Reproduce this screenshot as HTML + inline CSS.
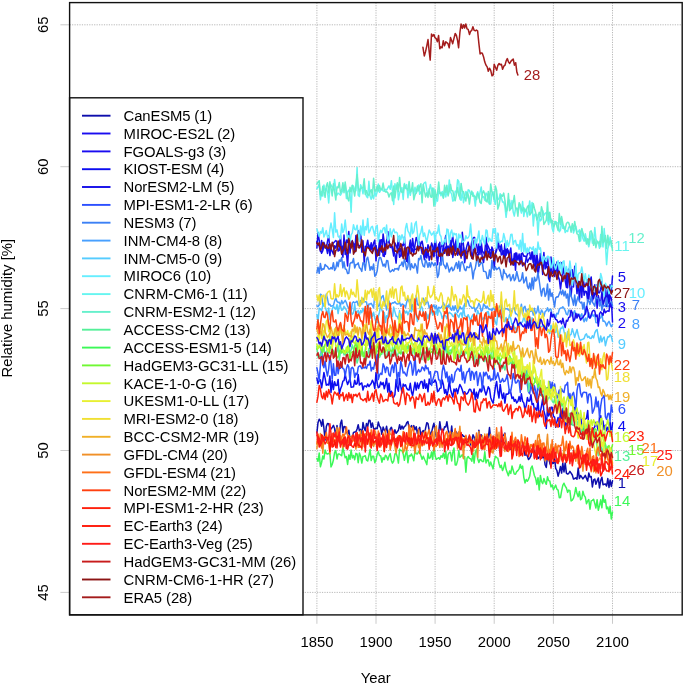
<!DOCTYPE html><html><head><meta charset="utf-8"><style>html,body{margin:0;padding:0;background:#fff}svg{display:block;will-change:transform}text{font-family:"Liberation Sans",sans-serif;font-size:14.85px}</style></head><body>
<svg width="685" height="685" viewBox="0 0 685 685">
<rect width="685" height="685" fill="#fff"/>
<g stroke="#a0a0a0" stroke-width="0.75" stroke-dasharray="1.2 1.25" fill="none"><line x1="69.6" y1="24.8" x2="682.2" y2="24.8"/><line x1="69.6" y1="166.7" x2="682.2" y2="166.7"/><line x1="69.6" y1="308.6" x2="682.2" y2="308.6"/><line x1="69.6" y1="450.5" x2="682.2" y2="450.5"/><line x1="69.6" y1="592.4" x2="682.2" y2="592.4"/><line x1="316.9" y1="2.6" x2="316.9" y2="614.9"/><line x1="376.0" y1="2.6" x2="376.0" y2="614.9"/><line x1="435.1" y1="2.6" x2="435.1" y2="614.9"/><line x1="494.2" y1="2.6" x2="494.2" y2="614.9"/><line x1="553.4" y1="2.6" x2="553.4" y2="614.9"/><line x1="612.5" y1="2.6" x2="612.5" y2="614.9"/></g>
<g stroke="#c4c4c4" stroke-width="0.9" fill="none"><line x1="60.4" y1="24.8" x2="69.6" y2="24.8"/><line x1="60.4" y1="166.7" x2="69.6" y2="166.7"/><line x1="60.4" y1="308.6" x2="69.6" y2="308.6"/><line x1="60.4" y1="450.5" x2="69.6" y2="450.5"/><line x1="60.4" y1="592.4" x2="69.6" y2="592.4"/><line x1="316.9" y1="614.9" x2="316.9" y2="623.8"/><line x1="376.0" y1="614.9" x2="376.0" y2="623.8"/><line x1="435.1" y1="614.9" x2="435.1" y2="623.8"/><line x1="494.2" y1="614.9" x2="494.2" y2="623.8"/><line x1="553.4" y1="614.9" x2="553.4" y2="623.8"/><line x1="612.5" y1="614.9" x2="612.5" y2="623.8"/></g>
<g fill="none" stroke-width="1.5" stroke-linejoin="round" stroke-linecap="round">
<path stroke="#0E0EAC" d="M316.9 432.9 L318.0 422.7 L319.2 419.2 L320.4 421.1 L321.6 426.2 L322.8 419.5 L323.9 428.2 L325.1 440.1 L326.3 426.6 L327.5 423.5 L328.7 423.7 L329.9 428.3 L331.0 429.0 L332.2 427.5 L333.4 425.3 L334.6 428.6 L335.8 436.7 L337.0 425.4 L338.1 434.7 L339.3 436.2 L340.5 423.4 L341.7 420.1 L342.9 432.4 L344.0 426.6 L345.2 426.8 L346.4 430.9 L347.6 434.3 L348.8 430.2 L350.0 438.5 L351.1 436.6 L352.3 437.5 L353.5 432.4 L354.7 432.1 L355.9 431.9 L357.1 429.0 L358.2 424.7 L359.4 430.8 L360.6 429.3 L361.8 434.6 L363.0 422.6 L364.2 428.1 L365.3 430.8 L366.5 423.4 L367.7 426.5 L368.9 420.3 L370.1 420.5 L371.2 427.6 L372.4 423.0 L373.6 428.3 L374.8 429.3 L376.0 428.1 L377.2 428.6 L378.3 422.0 L379.5 426.1 L380.7 427.8 L381.9 434.3 L383.1 427.1 L384.3 430.1 L385.4 431.3 L386.6 426.3 L387.8 434.1 L389.0 433.8 L390.2 429.0 L391.4 427.3 L392.5 431.0 L393.7 434.6 L394.9 429.8 L396.1 433.2 L397.3 431.7 L398.4 430.2 L399.6 424.7 L400.8 429.2 L402.0 425.9 L403.2 429.0 L404.4 426.4 L405.5 425.9 L406.7 422.8 L407.9 421.5 L409.1 428.1 L410.3 428.2 L411.5 425.6 L412.6 427.6 L413.8 425.6 L415.0 429.7 L416.2 426.7 L417.4 433.5 L418.6 429.4 L419.7 427.3 L420.9 436.2 L422.1 431.9 L423.3 430.5 L424.5 433.6 L425.6 428.2 L426.8 422.7 L428.0 423.6 L429.2 430.5 L430.4 434.3 L431.6 432.4 L432.7 427.3 L433.9 423.2 L435.1 431.8 L436.3 436.9 L437.5 433.1 L438.7 432.5 L439.8 421.7 L441.0 429.8 L442.2 430.0 L443.4 430.6 L444.6 426.7 L445.8 426.9 L446.9 421.7 L448.1 429.7 L449.3 433.2 L450.5 437.3 L451.7 426.0 L452.8 437.9 L454.0 436.0 L455.2 435.8 L456.4 432.0 L457.6 435.1 L458.8 439.0 L459.9 434.0 L461.1 437.0 L462.3 434.7 L463.5 436.3 L464.7 436.6 L465.9 437.2 L467.0 441.6 L468.2 438.8 L469.4 436.3 L470.6 445.0 L471.8 440.8 L473.0 434.8 L474.1 437.0 L475.3 443.1 L476.5 439.9 L477.7 440.3 L478.9 430.2 L480.0 438.2 L481.2 434.7 L482.4 437.3 L483.6 440.3 L484.8 439.6 L486.0 439.4 L487.1 436.5 L488.3 437.8 L489.5 427.5 L490.7 439.1 L491.9 437.2 L493.1 442.1 L494.2 438.7 L495.4 449.0 L496.6 433.9 L497.8 437.5 L499.0 445.7 L500.2 452.5 L501.3 446.8 L502.5 436.2 L503.7 435.2 L504.9 433.1 L506.1 443.7 L507.2 450.7 L508.4 443.4 L509.6 444.4 L510.8 449.2 L512.0 447.3 L513.2 444.6 L514.3 440.7 L515.5 446.5 L516.7 448.9 L517.9 450.0 L519.1 445.0 L520.3 452.3 L521.4 447.8 L522.6 444.9 L523.8 445.6 L525.0 455.3 L526.2 453.6 L527.4 456.3 L528.5 459.5 L529.7 458.2 L530.9 455.8 L532.1 449.2 L533.3 448.8 L534.4 451.7 L535.6 456.7 L536.8 454.1 L538.0 458.6 L539.2 457.4 L540.4 452.8 L541.5 455.5 L542.7 457.7 L543.9 456.0 L545.1 464.7 L546.3 467.5 L547.5 455.9 L548.6 455.6 L549.8 463.2 L551.0 466.1 L552.2 462.3 L553.4 463.3 L554.6 458.1 L555.7 468.3 L556.9 470.5 L558.1 476.2 L559.3 471.7 L560.5 466.4 L561.6 473.1 L562.8 463.1 L564.0 471.9 L565.2 462.9 L566.4 473.2 L567.6 474.1 L568.7 473.5 L569.9 471.4 L571.1 473.1 L572.3 475.0 L573.5 479.1 L574.7 478.5 L575.8 477.8 L577.0 479.2 L578.2 467.9 L579.4 478.6 L580.6 475.5 L581.8 477.1 L582.9 478.9 L584.1 477.3 L585.3 475.3 L586.5 478.4 L587.7 481.1 L588.8 472.9 L590.0 477.1 L591.2 476.5 L592.4 487.0 L593.6 479.8 L594.8 479.0 L595.9 484.3 L597.1 481.1 L598.3 477.9 L599.5 487.9 L600.7 480.6 L601.9 477.2 L603.0 484.7 L604.2 484.3 L605.4 484.0 L606.6 486.0 L607.8 478.6 L609.0 487.4 L610.1 479.9 L611.3 486.4 L612.5 480.8"/>
<path stroke="#1A0CF0" d="M316.9 241.7 L318.0 244.8 L319.2 246.1 L320.4 251.4 L321.6 240.4 L322.8 249.5 L323.9 243.6 L325.1 247.6 L326.3 248.3 L327.5 241.3 L328.7 235.8 L329.9 250.2 L331.0 247.7 L332.2 245.5 L333.4 243.0 L334.6 241.8 L335.8 240.5 L337.0 241.9 L338.1 251.1 L339.3 250.4 L340.5 235.6 L341.7 254.4 L342.9 246.0 L344.0 247.0 L345.2 250.5 L346.4 252.9 L347.6 266.0 L348.8 244.0 L350.0 249.2 L351.1 245.5 L352.3 240.6 L353.5 245.2 L354.7 252.5 L355.9 235.4 L357.1 241.3 L358.2 230.7 L359.4 239.9 L360.6 229.4 L361.8 252.1 L363.0 247.9 L364.2 252.4 L365.3 250.8 L366.5 245.6 L367.7 240.2 L368.9 248.1 L370.1 247.9 L371.2 242.8 L372.4 248.9 L373.6 243.0 L374.8 240.0 L376.0 261.0 L377.2 250.1 L378.3 255.3 L379.5 255.3 L380.7 240.1 L381.9 239.8 L383.1 256.0 L384.3 256.4 L385.4 244.0 L386.6 245.4 L387.8 231.4 L389.0 241.2 L390.2 247.6 L391.4 246.2 L392.5 249.3 L393.7 256.0 L394.9 242.7 L396.1 245.6 L397.3 248.5 L398.4 248.3 L399.6 257.3 L400.8 255.3 L402.0 244.4 L403.2 245.7 L404.4 237.1 L405.5 252.1 L406.7 247.9 L407.9 262.5 L409.1 247.8 L410.3 240.1 L411.5 252.4 L412.6 238.4 L413.8 247.5 L415.0 249.5 L416.2 249.3 L417.4 247.3 L418.6 242.3 L419.7 241.8 L420.9 247.7 L422.1 253.5 L423.3 253.1 L424.5 259.8 L425.6 247.4 L426.8 257.9 L428.0 250.0 L429.2 260.2 L430.4 256.3 L431.6 255.6 L432.7 249.3 L433.9 255.8 L435.1 236.8 L436.3 253.4 L437.5 264.7 L438.7 252.8 L439.8 242.3 L441.0 264.2 L442.2 254.8 L443.4 244.0 L444.6 253.3 L445.8 247.0 L446.9 246.6 L448.1 255.6 L449.3 247.6 L450.5 247.5 L451.7 241.4 L452.8 235.8 L454.0 250.2 L455.2 243.7 L456.4 239.1 L457.6 248.8 L458.8 253.7 L459.9 254.2 L461.1 254.7 L462.3 255.4 L463.5 247.2 L464.7 262.7 L465.9 254.6 L467.0 251.1 L468.2 251.6 L469.4 249.9 L470.6 249.1 L471.8 241.4 L473.0 238.3 L474.1 237.3 L475.3 238.5 L476.5 243.6 L477.7 252.3 L478.9 244.1 L480.0 254.4 L481.2 241.9 L482.4 251.4 L483.6 252.6 L484.8 254.9 L486.0 251.3 L487.1 244.0 L488.3 246.6 L489.5 249.6 L490.7 249.9 L491.9 250.0 L493.1 252.6 L494.2 259.1 L495.4 254.2 L496.6 247.5 L497.8 234.1 L499.0 247.0 L500.2 246.2 L501.3 254.9 L502.5 252.8 L503.7 256.7 L504.9 243.6 L506.1 255.2 L507.2 249.2 L508.4 254.0 L509.6 253.3 L510.8 248.0 L512.0 261.9 L513.2 265.2 L514.3 253.8 L515.5 270.3 L516.7 253.1 L517.9 260.0 L519.1 254.1 L520.3 262.0 L521.4 253.4 L522.6 266.0 L523.8 264.2 L525.0 264.5 L526.2 258.1 L527.4 254.3 L528.5 252.6 L529.7 252.4 L530.9 259.6 L532.1 252.8 L533.3 262.7 L534.4 252.2 L535.6 270.9 L536.8 255.2 L538.0 261.1 L539.2 267.4 L540.4 253.4 L541.5 262.0 L542.7 264.9 L543.9 252.5 L545.1 268.9 L546.3 266.1 L547.5 256.8 L548.6 268.3 L549.8 277.8 L551.0 269.6 L552.2 262.5 L553.4 261.9 L554.6 276.5 L555.7 271.2 L556.9 262.1 L558.1 276.1 L559.3 279.2 L560.5 289.1 L561.6 280.3 L562.8 268.7 L564.0 269.1 L565.2 280.8 L566.4 287.4 L567.6 271.1 L568.7 269.1 L569.9 287.0 L571.1 295.9 L572.3 281.9 L573.5 276.7 L574.7 272.3 L575.8 272.3 L577.0 288.7 L578.2 285.4 L579.4 281.5 L580.6 288.6 L581.8 297.5 L582.9 277.6 L584.1 284.4 L585.3 286.5 L586.5 282.3 L587.7 279.7 L588.8 299.5 L590.0 286.4 L591.2 290.4 L592.4 301.6 L593.6 291.6 L594.8 284.7 L595.9 290.0 L597.1 308.3 L598.3 295.4 L599.5 301.3 L600.7 302.4 L601.9 292.1 L603.0 293.8 L604.2 292.5 L605.4 286.3 L606.6 306.6 L607.8 296.0 L609.0 303.6 L610.1 295.8 L611.3 298.1 L612.5 322.0"/>
<path stroke="#0C0CF0" d="M316.9 378.1 L318.0 383.7 L319.2 380.6 L320.4 379.9 L321.6 387.8 L322.8 380.6 L323.9 372.5 L325.1 378.2 L326.3 385.2 L327.5 384.3 L328.7 385.0 L329.9 375.9 L331.0 392.4 L332.2 380.6 L333.4 389.6 L334.6 381.7 L335.8 385.6 L337.0 385.3 L338.1 379.4 L339.3 393.7 L340.5 389.0 L341.7 386.0 L342.9 381.1 L344.0 380.6 L345.2 374.2 L346.4 380.4 L347.6 384.5 L348.8 381.4 L350.0 378.2 L351.1 387.2 L352.3 387.1 L353.5 386.8 L354.7 380.2 L355.9 384.3 L357.1 383.6 L358.2 374.5 L359.4 385.1 L360.6 383.7 L361.8 383.0 L363.0 390.1 L364.2 385.9 L365.3 386.0 L366.5 387.0 L367.7 384.0 L368.9 386.5 L370.1 384.8 L371.2 383.5 L372.4 380.2 L373.6 382.8 L374.8 388.5 L376.0 372.5 L377.2 383.3 L378.3 387.7 L379.5 386.8 L380.7 382.0 L381.9 384.8 L383.1 382.5 L384.3 388.8 L385.4 384.5 L386.6 378.5 L387.8 392.1 L389.0 383.2 L390.2 395.1 L391.4 391.3 L392.5 397.2 L393.7 397.1 L394.9 394.7 L396.1 379.6 L397.3 388.1 L398.4 391.2 L399.6 378.0 L400.8 386.2 L402.0 393.0 L403.2 384.1 L404.4 386.0 L405.5 384.8 L406.7 388.2 L407.9 389.7 L409.1 390.0 L410.3 383.3 L411.5 392.0 L412.6 395.6 L413.8 389.1 L415.0 382.3 L416.2 390.1 L417.4 383.1 L418.6 388.5 L419.7 384.4 L420.9 381.5 L422.1 381.6 L423.3 388.3 L424.5 380.0 L425.6 388.3 L426.8 383.8 L428.0 391.8 L429.2 379.0 L430.4 384.2 L431.6 383.6 L432.7 382.3 L433.9 382.2 L435.1 379.9 L436.3 382.9 L437.5 391.7 L438.7 390.7 L439.8 388.3 L441.0 388.0 L442.2 379.9 L443.4 384.7 L444.6 393.2 L445.8 389.5 L446.9 396.2 L448.1 390.7 L449.3 380.5 L450.5 389.2 L451.7 393.6 L452.8 397.1 L454.0 389.1 L455.2 391.9 L456.4 388.6 L457.6 393.7 L458.8 388.2 L459.9 384.5 L461.1 386.8 L462.3 390.0 L463.5 394.0 L464.7 391.7 L465.9 394.0 L467.0 393.9 L468.2 392.3 L469.4 389.2 L470.6 389.5 L471.8 392.7 L473.0 394.6 L474.1 389.0 L475.3 399.7 L476.5 392.3 L477.7 398.2 L478.9 392.0 L480.0 388.9 L481.2 392.0 L482.4 388.0 L483.6 386.0 L484.8 391.0 L486.0 395.1 L487.1 391.3 L488.3 386.8 L489.5 388.8 L490.7 397.4 L491.9 400.7 L493.1 403.2 L494.2 396.0 L495.4 386.9 L496.6 381.4 L497.8 391.5 L499.0 398.0 L500.2 384.4 L501.3 392.5 L502.5 398.5 L503.7 393.1 L504.9 403.1 L506.1 394.0 L507.2 394.2 L508.4 393.8 L509.6 389.4 L510.8 392.6 L512.0 398.6 L513.2 397.0 L514.3 401.2 L515.5 399.5 L516.7 402.9 L517.9 401.4 L519.1 396.6 L520.3 401.2 L521.4 393.8 L522.6 401.4 L523.8 402.9 L525.0 410.1 L526.2 405.6 L527.4 397.5 L528.5 401.1 L529.7 400.9 L530.9 394.7 L532.1 404.6 L533.3 403.5 L534.4 409.7 L535.6 408.0 L536.8 410.5 L538.0 400.6 L539.2 416.4 L540.4 411.7 L541.5 405.9 L542.7 399.0 L543.9 410.9 L545.1 415.4 L546.3 428.4 L547.5 407.3 L548.6 415.9 L549.8 413.3 L551.0 407.3 L552.2 407.3 L553.4 416.0 L554.6 417.3 L555.7 427.3 L556.9 421.6 L558.1 417.5 L559.3 426.5 L560.5 409.8 L561.6 418.4 L562.8 408.5 L564.0 416.7 L565.2 421.4 L566.4 428.8 L567.6 419.2 L568.7 419.9 L569.9 418.3 L571.1 424.4 L572.3 413.0 L573.5 413.7 L574.7 407.5 L575.8 409.4 L577.0 419.3 L578.2 413.1 L579.4 424.2 L580.6 415.9 L581.8 426.1 L582.9 432.4 L584.1 419.4 L585.3 419.3 L586.5 418.2 L587.7 410.4 L588.8 428.2 L590.0 428.3 L591.2 429.5 L592.4 431.4 L593.6 428.7 L594.8 426.7 L595.9 422.3 L597.1 425.7 L598.3 430.5 L599.5 417.4 L600.7 415.7 L601.9 424.1 L603.0 421.0 L604.2 429.6 L605.4 425.3 L606.6 430.8 L607.8 427.2 L609.0 430.1 L610.1 422.0 L611.3 435.2 L612.5 422.7"/>
<path stroke="#140CE8" d="M316.9 248.0 L318.0 232.5 L319.2 240.4 L320.4 248.3 L321.6 253.3 L322.8 250.6 L323.9 242.3 L325.1 246.0 L326.3 247.4 L327.5 253.4 L328.7 244.6 L329.9 255.6 L331.0 248.2 L332.2 251.2 L333.4 254.1 L334.6 245.8 L335.8 248.3 L337.0 243.3 L338.1 246.6 L339.3 241.1 L340.5 247.0 L341.7 246.8 L342.9 257.2 L344.0 235.0 L345.2 254.4 L346.4 240.0 L347.6 242.5 L348.8 231.5 L350.0 253.0 L351.1 243.3 L352.3 241.5 L353.5 244.1 L354.7 244.0 L355.9 250.3 L357.1 242.0 L358.2 245.0 L359.4 246.6 L360.6 244.6 L361.8 249.0 L363.0 240.7 L364.2 262.2 L365.3 246.3 L366.5 247.1 L367.7 246.7 L368.9 245.0 L370.1 250.5 L371.2 246.6 L372.4 251.3 L373.6 250.3 L374.8 247.8 L376.0 245.5 L377.2 251.7 L378.3 253.2 L379.5 240.1 L380.7 250.5 L381.9 252.1 L383.1 233.9 L384.3 242.7 L385.4 254.3 L386.6 240.4 L387.8 239.0 L389.0 242.5 L390.2 244.9 L391.4 245.6 L392.5 246.4 L393.7 251.0 L394.9 254.0 L396.1 263.1 L397.3 248.2 L398.4 237.1 L399.6 251.8 L400.8 248.6 L402.0 256.1 L403.2 256.9 L404.4 253.9 L405.5 253.5 L406.7 261.3 L407.9 261.2 L409.1 249.0 L410.3 243.0 L411.5 251.8 L412.6 248.7 L413.8 253.2 L415.0 244.9 L416.2 237.5 L417.4 240.8 L418.6 248.7 L419.7 247.8 L420.9 243.6 L422.1 241.2 L423.3 247.3 L424.5 257.8 L425.6 256.4 L426.8 252.7 L428.0 244.7 L429.2 248.8 L430.4 250.3 L431.6 243.0 L432.7 246.0 L433.9 256.7 L435.1 235.9 L436.3 251.5 L437.5 251.8 L438.7 244.1 L439.8 255.3 L441.0 247.0 L442.2 244.5 L443.4 246.5 L444.6 242.1 L445.8 235.4 L446.9 253.7 L448.1 245.9 L449.3 252.3 L450.5 240.6 L451.7 247.7 L452.8 257.5 L454.0 249.8 L455.2 251.3 L456.4 241.6 L457.6 255.3 L458.8 247.0 L459.9 243.2 L461.1 258.1 L462.3 232.3 L463.5 245.4 L464.7 256.0 L465.9 250.0 L467.0 245.6 L468.2 242.1 L469.4 248.6 L470.6 247.1 L471.8 258.5 L473.0 252.7 L474.1 240.5 L475.3 253.3 L476.5 253.0 L477.7 256.5 L478.9 252.6 L480.0 240.6 L481.2 247.7 L482.4 258.4 L483.6 262.5 L484.8 252.0 L486.0 237.3 L487.1 247.5 L488.3 255.3 L489.5 250.5 L490.7 258.3 L491.9 246.9 L493.1 250.0 L494.2 269.2 L495.4 253.0 L496.6 250.6 L497.8 243.0 L499.0 248.9 L500.2 251.5 L501.3 244.8 L502.5 253.1 L503.7 250.7 L504.9 258.0 L506.1 251.9 L507.2 248.6 L508.4 251.3 L509.6 261.9 L510.8 259.1 L512.0 262.0 L513.2 258.7 L514.3 264.8 L515.5 252.9 L516.7 257.7 L517.9 258.5 L519.1 257.9 L520.3 263.8 L521.4 254.3 L522.6 253.1 L523.8 256.3 L525.0 256.1 L526.2 256.5 L527.4 262.2 L528.5 259.8 L529.7 257.7 L530.9 258.2 L532.1 251.8 L533.3 260.6 L534.4 265.9 L535.6 263.8 L536.8 253.2 L538.0 276.3 L539.2 266.3 L540.4 263.8 L541.5 258.3 L542.7 274.4 L543.9 259.7 L545.1 258.4 L546.3 267.6 L547.5 266.7 L548.6 278.5 L549.8 281.5 L551.0 257.0 L552.2 273.6 L553.4 272.7 L554.6 264.1 L555.7 265.0 L556.9 270.3 L558.1 278.7 L559.3 263.2 L560.5 262.5 L561.6 262.7 L562.8 266.9 L564.0 273.6 L565.2 276.8 L566.4 275.9 L567.6 287.8 L568.7 276.5 L569.9 276.8 L571.1 270.3 L572.3 269.8 L573.5 286.9 L574.7 266.3 L575.8 277.9 L577.0 293.6 L578.2 281.3 L579.4 300.3 L580.6 285.2 L581.8 291.3 L582.9 281.8 L584.1 295.2 L585.3 291.2 L586.5 291.7 L587.7 301.1 L588.8 283.2 L590.0 282.2 L591.2 277.0 L592.4 292.9 L593.6 298.7 L594.8 293.1 L595.9 294.1 L597.1 284.8 L598.3 292.7 L599.5 292.7 L600.7 289.2 L601.9 281.4 L603.0 305.9 L604.2 301.1 L605.4 295.9 L606.6 298.4 L607.8 287.8 L609.0 302.7 L610.1 284.7 L611.3 292.0 L612.5 276.0"/>
<path stroke="#2C50FF" d="M316.9 367.8 L318.0 373.5 L319.2 380.6 L320.4 365.3 L321.6 346.5 L322.8 365.0 L323.9 367.7 L325.1 360.9 L326.3 370.6 L327.5 376.0 L328.7 368.6 L329.9 355.6 L331.0 363.2 L332.2 379.3 L333.4 363.8 L334.6 375.3 L335.8 375.2 L337.0 361.7 L338.1 373.8 L339.3 366.7 L340.5 368.3 L341.7 364.1 L342.9 368.6 L344.0 369.2 L345.2 376.1 L346.4 368.7 L347.6 364.7 L348.8 366.9 L350.0 381.8 L351.1 368.6 L352.3 367.3 L353.5 369.0 L354.7 377.6 L355.9 373.1 L357.1 374.8 L358.2 367.3 L359.4 366.0 L360.6 366.1 L361.8 368.7 L363.0 367.4 L364.2 368.0 L365.3 366.8 L366.5 368.5 L367.7 364.6 L368.9 365.0 L370.1 361.1 L371.2 370.9 L372.4 367.4 L373.6 369.1 L374.8 362.3 L376.0 364.6 L377.2 354.2 L378.3 379.6 L379.5 375.2 L380.7 373.2 L381.9 374.4 L383.1 363.8 L384.3 366.6 L385.4 372.6 L386.6 367.1 L387.8 367.7 L389.0 375.0 L390.2 376.1 L391.4 368.0 L392.5 365.0 L393.7 372.4 L394.9 362.6 L396.1 365.0 L397.3 383.8 L398.4 372.6 L399.6 376.4 L400.8 361.2 L402.0 366.4 L403.2 373.0 L404.4 372.1 L405.5 374.4 L406.7 376.0 L407.9 368.7 L409.1 364.8 L410.3 361.1 L411.5 364.5 L412.6 375.1 L413.8 369.6 L415.0 355.9 L416.2 375.3 L417.4 372.0 L418.6 369.5 L419.7 371.9 L420.9 371.0 L422.1 367.0 L423.3 368.1 L424.5 370.7 L425.6 365.0 L426.8 368.7 L428.0 367.8 L429.2 374.0 L430.4 371.7 L431.6 385.4 L432.7 380.1 L433.9 376.0 L435.1 371.5 L436.3 371.5 L437.5 372.0 L438.7 379.8 L439.8 380.1 L441.0 386.2 L442.2 371.6 L443.4 365.3 L444.6 370.2 L445.8 377.7 L446.9 371.9 L448.1 381.8 L449.3 376.3 L450.5 383.0 L451.7 374.6 L452.8 382.4 L454.0 379.7 L455.2 372.1 L456.4 370.3 L457.6 368.3 L458.8 369.4 L459.9 371.3 L461.1 365.3 L462.3 379.8 L463.5 372.1 L464.7 383.0 L465.9 376.3 L467.0 372.0 L468.2 371.4 L469.4 368.4 L470.6 380.3 L471.8 371.2 L473.0 372.5 L474.1 379.5 L475.3 372.9 L476.5 371.6 L477.7 385.5 L478.9 377.6 L480.0 372.8 L481.2 377.3 L482.4 390.7 L483.6 372.2 L484.8 375.8 L486.0 372.2 L487.1 374.3 L488.3 378.8 L489.5 375.9 L490.7 380.9 L491.9 378.8 L493.1 379.8 L494.2 367.0 L495.4 379.4 L496.6 376.9 L497.8 372.7 L499.0 377.7 L500.2 382.5 L501.3 381.6 L502.5 378.4 L503.7 381.7 L504.9 381.1 L506.1 378.7 L507.2 374.5 L508.4 384.5 L509.6 393.1 L510.8 390.8 L512.0 383.9 L513.2 373.4 L514.3 377.6 L515.5 382.9 L516.7 382.8 L517.9 380.0 L519.1 381.1 L520.3 392.5 L521.4 379.7 L522.6 378.2 L523.8 373.8 L525.0 383.9 L526.2 370.7 L527.4 384.6 L528.5 391.8 L529.7 393.8 L530.9 383.5 L532.1 390.1 L533.3 393.4 L534.4 385.7 L535.6 391.1 L536.8 401.7 L538.0 379.9 L539.2 389.6 L540.4 395.2 L541.5 394.5 L542.7 394.7 L543.9 400.7 L545.1 393.8 L546.3 388.2 L547.5 387.6 L548.6 387.3 L549.8 381.5 L551.0 389.0 L552.2 382.3 L553.4 391.3 L554.6 384.1 L555.7 391.4 L556.9 398.4 L558.1 394.2 L559.3 389.9 L560.5 397.1 L561.6 388.7 L562.8 391.4 L564.0 392.5 L565.2 385.3 L566.4 384.8 L567.6 382.4 L568.7 401.4 L569.9 393.5 L571.1 400.9 L572.3 394.4 L573.5 392.4 L574.7 398.9 L575.8 410.4 L577.0 390.6 L578.2 384.1 L579.4 383.8 L580.6 393.3 L581.8 397.0 L582.9 392.9 L584.1 392.1 L585.3 392.6 L586.5 392.6 L587.7 402.9 L588.8 394.5 L590.0 393.8 L591.2 397.9 L592.4 413.2 L593.6 410.4 L594.8 406.6 L595.9 397.1 L597.1 406.8 L598.3 401.3 L599.5 417.3 L600.7 406.1 L601.9 398.7 L603.0 397.4 L604.2 395.2 L605.4 416.6 L606.6 419.4 L607.8 413.7 L609.0 413.2 L610.1 421.2 L611.3 404.9 L612.5 411.9"/>
<path stroke="#3C80F5" d="M316.9 272.8 L318.0 267.2 L319.2 273.3 L320.4 263.4 L321.6 270.2 L322.8 268.8 L323.9 269.3 L325.1 264.5 L326.3 265.9 L327.5 266.6 L328.7 268.9 L329.9 269.0 L331.0 267.5 L332.2 269.0 L333.4 262.7 L334.6 270.4 L335.8 268.4 L337.0 262.0 L338.1 266.7 L339.3 259.9 L340.5 261.2 L341.7 257.5 L342.9 267.8 L344.0 261.8 L345.2 268.9 L346.4 269.5 L347.6 273.6 L348.8 273.2 L350.0 263.7 L351.1 262.5 L352.3 262.8 L353.5 258.5 L354.7 268.0 L355.9 264.5 L357.1 264.4 L358.2 262.9 L359.4 267.6 L360.6 268.8 L361.8 271.4 L363.0 262.7 L364.2 263.4 L365.3 270.2 L366.5 259.3 L367.7 257.2 L368.9 263.0 L370.1 270.3 L371.2 266.6 L372.4 269.6 L373.6 264.0 L374.8 276.3 L376.0 274.7 L377.2 270.7 L378.3 261.9 L379.5 257.2 L380.7 257.6 L381.9 261.7 L383.1 266.0 L384.3 264.1 L385.4 267.0 L386.6 260.6 L387.8 260.8 L389.0 269.2 L390.2 272.0 L391.4 271.2 L392.5 269.6 L393.7 271.1 L394.9 268.6 L396.1 269.1 L397.3 268.3 L398.4 270.0 L399.6 265.4 L400.8 265.3 L402.0 261.9 L403.2 266.6 L404.4 258.9 L405.5 262.9 L406.7 269.6 L407.9 266.4 L409.1 256.2 L410.3 269.8 L411.5 263.8 L412.6 267.3 L413.8 268.0 L415.0 263.6 L416.2 266.2 L417.4 273.1 L418.6 258.6 L419.7 259.6 L420.9 255.4 L422.1 262.4 L423.3 266.2 L424.5 267.0 L425.6 259.7 L426.8 262.5 L428.0 267.2 L429.2 262.5 L430.4 267.1 L431.6 262.3 L432.7 263.5 L433.9 265.8 L435.1 262.9 L436.3 265.5 L437.5 277.4 L438.7 274.4 L439.8 262.7 L441.0 265.3 L442.2 251.9 L443.4 264.2 L444.6 265.9 L445.8 268.6 L446.9 263.0 L448.1 266.9 L449.3 272.1 L450.5 269.0 L451.7 267.2 L452.8 270.7 L454.0 269.5 L455.2 265.5 L456.4 262.6 L457.6 268.4 L458.8 261.3 L459.9 271.2 L461.1 262.7 L462.3 261.8 L463.5 264.7 L464.7 269.7 L465.9 270.6 L467.0 266.5 L468.2 267.4 L469.4 267.6 L470.6 262.7 L471.8 268.5 L473.0 279.0 L474.1 271.0 L475.3 268.4 L476.5 261.2 L477.7 258.2 L478.9 266.3 L480.0 264.7 L481.2 262.3 L482.4 263.4 L483.6 271.3 L484.8 271.4 L486.0 272.1 L487.1 278.3 L488.3 278.5 L489.5 270.0 L490.7 277.3 L491.9 260.4 L493.1 268.6 L494.2 269.9 L495.4 266.7 L496.6 269.6 L497.8 268.7 L499.0 267.4 L500.2 270.2 L501.3 276.1 L502.5 279.8 L503.7 269.4 L504.9 273.4 L506.1 273.9 L507.2 277.8 L508.4 275.7 L509.6 274.4 L510.8 280.8 L512.0 277.7 L513.2 274.6 L514.3 280.7 L515.5 278.8 L516.7 271.4 L517.9 276.5 L519.1 281.4 L520.3 280.8 L521.4 279.1 L522.6 272.7 L523.8 283.0 L525.0 280.5 L526.2 277.1 L527.4 286.3 L528.5 288.7 L529.7 283.1 L530.9 290.2 L532.1 277.9 L533.3 288.9 L534.4 277.3 L535.6 281.1 L536.8 279.7 L538.0 272.4 L539.2 280.5 L540.4 289.5 L541.5 295.9 L542.7 289.1 L543.9 288.2 L545.1 296.4 L546.3 293.8 L547.5 283.9 L548.6 300.1 L549.8 288.9 L551.0 296.5 L552.2 292.9 L553.4 300.2 L554.6 307.0 L555.7 297.8 L556.9 296.8 L558.1 296.9 L559.3 293.7 L560.5 290.7 L561.6 294.5 L562.8 290.1 L564.0 295.9 L565.2 291.2 L566.4 298.1 L567.6 294.0 L568.7 305.9 L569.9 289.8 L571.1 296.1 L572.3 299.5 L573.5 305.2 L574.7 295.0 L575.8 305.7 L577.0 300.0 L578.2 296.6 L579.4 301.4 L580.6 302.9 L581.8 302.1 L582.9 309.1 L584.1 302.4 L585.3 314.6 L586.5 310.2 L587.7 299.5 L588.8 301.1 L590.0 304.4 L591.2 296.3 L592.4 302.3 L593.6 303.8 L594.8 306.1 L595.9 297.8 L597.1 298.1 L598.3 298.8 L599.5 306.0 L600.7 301.2 L601.9 310.2 L603.0 305.2 L604.2 305.5 L605.4 306.5 L606.6 297.9 L607.8 306.7 L609.0 306.3 L610.1 302.9 L611.3 301.8 L612.5 305.8"/>
<path stroke="#48A0FF" d="M316.9 305.8 L318.0 306.6 L319.2 305.0 L320.4 294.2 L321.6 294.9 L322.8 304.8 L323.9 305.9 L325.1 300.4 L326.3 294.1 L327.5 298.8 L328.7 304.8 L329.9 304.3 L331.0 306.3 L332.2 305.9 L333.4 305.6 L334.6 301.1 L335.8 298.0 L337.0 301.4 L338.1 302.5 L339.3 302.2 L340.5 305.4 L341.7 300.6 L342.9 303.7 L344.0 302.1 L345.2 300.4 L346.4 302.7 L347.6 306.4 L348.8 308.5 L350.0 306.7 L351.1 311.7 L352.3 303.0 L353.5 301.9 L354.7 303.0 L355.9 302.1 L357.1 301.2 L358.2 305.2 L359.4 303.5 L360.6 300.6 L361.8 304.0 L363.0 298.2 L364.2 301.7 L365.3 301.7 L366.5 301.9 L367.7 309.5 L368.9 303.9 L370.1 304.0 L371.2 303.3 L372.4 305.4 L373.6 307.8 L374.8 294.1 L376.0 296.6 L377.2 301.9 L378.3 306.5 L379.5 305.2 L380.7 299.5 L381.9 296.8 L383.1 295.6 L384.3 301.7 L385.4 303.1 L386.6 310.0 L387.8 304.4 L389.0 300.9 L390.2 305.7 L391.4 303.7 L392.5 302.7 L393.7 303.1 L394.9 301.8 L396.1 303.3 L397.3 304.0 L398.4 303.7 L399.6 302.2 L400.8 306.3 L402.0 304.0 L403.2 304.5 L404.4 305.3 L405.5 307.7 L406.7 302.1 L407.9 298.1 L409.1 301.8 L410.3 299.4 L411.5 308.9 L412.6 304.6 L413.8 308.3 L415.0 304.6 L416.2 295.3 L417.4 304.5 L418.6 305.3 L419.7 302.5 L420.9 304.4 L422.1 301.4 L423.3 298.2 L424.5 301.1 L425.6 304.2 L426.8 300.6 L428.0 302.3 L429.2 308.0 L430.4 305.6 L431.6 305.6 L432.7 307.0 L433.9 305.0 L435.1 308.5 L436.3 305.4 L437.5 312.4 L438.7 307.2 L439.8 307.9 L441.0 307.7 L442.2 306.3 L443.4 302.8 L444.6 306.1 L445.8 308.3 L446.9 305.5 L448.1 307.4 L449.3 303.9 L450.5 309.0 L451.7 310.2 L452.8 305.9 L454.0 310.2 L455.2 305.7 L456.4 309.1 L457.6 312.5 L458.8 309.8 L459.9 306.2 L461.1 309.0 L462.3 308.1 L463.5 309.2 L464.7 303.6 L465.9 306.4 L467.0 299.8 L468.2 301.3 L469.4 305.8 L470.6 306.4 L471.8 307.9 L473.0 308.2 L474.1 306.0 L475.3 311.7 L476.5 308.3 L477.7 307.1 L478.9 303.2 L480.0 305.5 L481.2 311.6 L482.4 310.1 L483.6 304.0 L484.8 305.4 L486.0 308.2 L487.1 306.1 L488.3 308.4 L489.5 309.6 L490.7 309.3 L491.9 310.8 L493.1 308.1 L494.2 308.1 L495.4 312.3 L496.6 307.3 L497.8 309.6 L499.0 307.7 L500.2 305.6 L501.3 304.5 L502.5 314.7 L503.7 312.5 L504.9 308.3 L506.1 308.9 L507.2 308.6 L508.4 310.1 L509.6 309.7 L510.8 315.4 L512.0 310.1 L513.2 308.2 L514.3 307.8 L515.5 313.5 L516.7 314.2 L517.9 315.3 L519.1 318.5 L520.3 310.3 L521.4 304.2 L522.6 314.1 L523.8 307.5 L525.0 306.3 L526.2 311.8 L527.4 310.0 L528.5 309.0 L529.7 311.6 L530.9 311.2 L532.1 309.8 L533.3 315.1 L534.4 308.3 L535.6 313.8 L536.8 311.8 L538.0 306.1 L539.2 312.9 L540.4 314.2 L541.5 309.9 L542.7 312.1 L543.9 316.4 L545.1 311.7 L546.3 310.7 L547.5 307.8 L548.6 311.5 L549.8 309.3 L551.0 309.2 L552.2 316.5 L553.4 317.0 L554.6 314.3 L555.7 317.7 L556.9 313.3 L558.1 313.9 L559.3 309.2 L560.5 308.0 L561.6 308.0 L562.8 306.8 L564.0 308.3 L565.2 310.5 L566.4 314.2 L567.6 314.9 L568.7 309.9 L569.9 311.0 L571.1 314.7 L572.3 316.3 L573.5 312.9 L574.7 310.7 L575.8 317.9 L577.0 313.8 L578.2 315.8 L579.4 314.3 L580.6 316.8 L581.8 313.8 L582.9 318.6 L584.1 321.8 L585.3 317.9 L586.5 321.0 L587.7 316.7 L588.8 312.6 L590.0 317.3 L591.2 316.9 L592.4 314.1 L593.6 316.1 L594.8 314.6 L595.9 322.4 L597.1 322.7 L598.3 322.6 L599.5 318.7 L600.7 317.6 L601.9 314.0 L603.0 321.2 L604.2 321.1 L605.4 322.5 L606.6 326.0 L607.8 323.1 L609.0 321.4 L610.1 323.7 L611.3 326.7 L612.5 324.6"/>
<path stroke="#55CCFF" d="M316.9 314.6 L318.0 321.6 L319.2 308.2 L320.4 308.8 L321.6 310.9 L322.8 305.2 L323.9 303.7 L325.1 306.6 L326.3 310.4 L327.5 314.5 L328.7 308.1 L329.9 319.7 L331.0 314.0 L332.2 309.4 L333.4 306.1 L334.6 308.1 L335.8 309.3 L337.0 304.4 L338.1 313.6 L339.3 305.8 L340.5 306.2 L341.7 310.3 L342.9 309.6 L344.0 306.3 L345.2 308.2 L346.4 310.1 L347.6 313.9 L348.8 313.5 L350.0 313.7 L351.1 311.3 L352.3 314.4 L353.5 312.8 L354.7 304.4 L355.9 313.0 L357.1 312.2 L358.2 310.5 L359.4 315.0 L360.6 310.6 L361.8 312.6 L363.0 308.2 L364.2 311.7 L365.3 312.4 L366.5 313.6 L367.7 312.2 L368.9 311.9 L370.1 318.2 L371.2 312.2 L372.4 316.2 L373.6 312.3 L374.8 318.3 L376.0 322.0 L377.2 322.8 L378.3 316.3 L379.5 312.2 L380.7 304.6 L381.9 310.4 L383.1 312.7 L384.3 312.6 L385.4 322.4 L386.6 315.7 L387.8 316.9 L389.0 309.7 L390.2 311.7 L391.4 314.5 L392.5 316.5 L393.7 307.1 L394.9 311.6 L396.1 316.0 L397.3 316.5 L398.4 319.1 L399.6 310.6 L400.8 319.3 L402.0 314.3 L403.2 312.2 L404.4 310.6 L405.5 313.0 L406.7 311.1 L407.9 314.8 L409.1 311.7 L410.3 309.1 L411.5 311.9 L412.6 308.2 L413.8 309.4 L415.0 311.4 L416.2 315.3 L417.4 321.4 L418.6 316.3 L419.7 313.3 L420.9 305.7 L422.1 307.7 L423.3 312.9 L424.5 315.6 L425.6 312.6 L426.8 314.5 L428.0 318.8 L429.2 314.2 L430.4 313.7 L431.6 309.2 L432.7 315.2 L433.9 312.5 L435.1 314.1 L436.3 310.6 L437.5 315.3 L438.7 309.5 L439.8 311.4 L441.0 313.3 L442.2 318.5 L443.4 315.9 L444.6 315.3 L445.8 315.9 L446.9 318.8 L448.1 313.9 L449.3 312.4 L450.5 313.4 L451.7 314.1 L452.8 316.4 L454.0 316.8 L455.2 312.7 L456.4 313.8 L457.6 315.4 L458.8 317.5 L459.9 314.1 L461.1 312.8 L462.3 317.3 L463.5 306.0 L464.7 315.7 L465.9 316.6 L467.0 316.9 L468.2 314.7 L469.4 317.8 L470.6 320.9 L471.8 316.6 L473.0 314.5 L474.1 318.5 L475.3 321.0 L476.5 316.5 L477.7 310.5 L478.9 313.7 L480.0 313.7 L481.2 315.9 L482.4 319.4 L483.6 317.9 L484.8 318.5 L486.0 318.7 L487.1 311.7 L488.3 311.6 L489.5 317.9 L490.7 317.3 L491.9 317.0 L493.1 321.1 L494.2 317.5 L495.4 322.5 L496.6 324.9 L497.8 313.7 L499.0 315.4 L500.2 316.2 L501.3 318.6 L502.5 315.1 L503.7 319.5 L504.9 321.8 L506.1 317.4 L507.2 321.9 L508.4 319.5 L509.6 314.6 L510.8 318.9 L512.0 324.6 L513.2 323.5 L514.3 328.4 L515.5 327.6 L516.7 332.2 L517.9 324.8 L519.1 326.5 L520.3 323.9 L521.4 322.6 L522.6 321.6 L523.8 316.8 L525.0 320.6 L526.2 323.6 L527.4 319.7 L528.5 325.0 L529.7 316.3 L530.9 325.7 L532.1 317.8 L533.3 320.2 L534.4 327.3 L535.6 325.1 L536.8 324.5 L538.0 322.2 L539.2 327.4 L540.4 326.4 L541.5 326.6 L542.7 325.9 L543.9 327.6 L545.1 328.4 L546.3 326.3 L547.5 329.6 L548.6 331.4 L549.8 333.6 L551.0 325.2 L552.2 329.0 L553.4 329.5 L554.6 332.3 L555.7 332.6 L556.9 324.9 L558.1 337.3 L559.3 336.1 L560.5 328.3 L561.6 328.4 L562.8 326.1 L564.0 331.2 L565.2 335.8 L566.4 338.4 L567.6 331.6 L568.7 339.8 L569.9 335.0 L571.1 334.4 L572.3 328.7 L573.5 332.6 L574.7 337.4 L575.8 333.3 L577.0 329.4 L578.2 334.9 L579.4 339.1 L580.6 340.3 L581.8 339.5 L582.9 339.2 L584.1 338.5 L585.3 334.9 L586.5 333.9 L587.7 337.4 L588.8 336.2 L590.0 338.3 L591.2 338.4 L592.4 335.8 L593.6 337.9 L594.8 332.8 L595.9 330.6 L597.1 329.5 L598.3 336.9 L599.5 342.6 L600.7 336.0 L601.9 341.8 L603.0 338.5 L604.2 337.0 L605.4 345.7 L606.6 340.7 L607.8 336.7 L609.0 336.9 L610.1 334.7 L611.3 336.4 L612.5 341.6"/>
<path stroke="#66EEFF" d="M316.9 229.1 L318.0 232.5 L319.2 236.2 L320.4 231.6 L321.6 233.1 L322.8 227.7 L323.9 236.9 L325.1 234.0 L326.3 230.6 L327.5 236.8 L328.7 237.8 L329.9 229.3 L331.0 223.1 L332.2 229.4 L333.4 237.4 L334.6 212.8 L335.8 232.1 L337.0 229.8 L338.1 236.4 L339.3 237.4 L340.5 238.8 L341.7 224.1 L342.9 232.6 L344.0 229.8 L345.2 220.1 L346.4 232.0 L347.6 238.6 L348.8 235.5 L350.0 242.2 L351.1 234.8 L352.3 232.9 L353.5 224.7 L354.7 229.4 L355.9 229.9 L357.1 225.2 L358.2 233.5 L359.4 241.2 L360.6 226.1 L361.8 235.0 L363.0 220.0 L364.2 235.3 L365.3 226.6 L366.5 229.8 L367.7 218.4 L368.9 232.8 L370.1 230.7 L371.2 227.1 L372.4 226.3 L373.6 231.0 L374.8 235.8 L376.0 226.9 L377.2 225.4 L378.3 241.6 L379.5 234.1 L380.7 230.2 L381.9 232.8 L383.1 228.4 L384.3 227.5 L385.4 233.1 L386.6 225.0 L387.8 240.9 L389.0 238.2 L390.2 228.8 L391.4 236.8 L392.5 231.7 L393.7 229.0 L394.9 232.8 L396.1 232.1 L397.3 233.0 L398.4 241.6 L399.6 235.5 L400.8 239.7 L402.0 234.8 L403.2 238.3 L404.4 243.0 L405.5 228.2 L406.7 223.4 L407.9 230.9 L409.1 232.9 L410.3 236.8 L411.5 222.9 L412.6 233.7 L413.8 231.9 L415.0 223.8 L416.2 221.5 L417.4 233.5 L418.6 244.8 L419.7 235.1 L420.9 232.2 L422.1 226.2 L423.3 236.5 L424.5 232.9 L425.6 237.5 L426.8 242.2 L428.0 235.6 L429.2 230.0 L430.4 232.6 L431.6 235.1 L432.7 233.8 L433.9 231.6 L435.1 242.4 L436.3 232.2 L437.5 233.1 L438.7 225.1 L439.8 234.5 L441.0 236.5 L442.2 244.8 L443.4 243.5 L444.6 239.6 L445.8 242.2 L446.9 229.1 L448.1 229.7 L449.3 243.0 L450.5 232.7 L451.7 230.0 L452.8 236.7 L454.0 233.1 L455.2 234.7 L456.4 233.7 L457.6 249.4 L458.8 234.0 L459.9 237.7 L461.1 234.9 L462.3 242.5 L463.5 241.5 L464.7 240.5 L465.9 235.8 L467.0 238.5 L468.2 237.7 L469.4 235.2 L470.6 224.0 L471.8 238.0 L473.0 248.4 L474.1 246.8 L475.3 238.6 L476.5 243.0 L477.7 238.1 L478.9 230.9 L480.0 245.4 L481.2 241.7 L482.4 235.4 L483.6 241.3 L484.8 244.1 L486.0 229.9 L487.1 230.6 L488.3 241.8 L489.5 238.2 L490.7 240.6 L491.9 241.4 L493.1 228.7 L494.2 232.6 L495.4 228.4 L496.6 247.9 L497.8 233.0 L499.0 242.2 L500.2 242.7 L501.3 241.1 L502.5 241.6 L503.7 233.6 L504.9 238.4 L506.1 247.9 L507.2 240.5 L508.4 246.6 L509.6 242.1 L510.8 234.4 L512.0 234.2 L513.2 244.4 L514.3 241.1 L515.5 240.4 L516.7 245.8 L517.9 244.5 L519.1 249.2 L520.3 240.2 L521.4 251.4 L522.6 233.6 L523.8 251.9 L525.0 243.5 L526.2 253.2 L527.4 248.0 L528.5 252.4 L529.7 247.2 L530.9 247.9 L532.1 249.7 L533.3 246.8 L534.4 254.2 L535.6 248.4 L536.8 254.3 L538.0 242.0 L539.2 249.3 L540.4 247.9 L541.5 255.8 L542.7 263.9 L543.9 256.6 L545.1 259.3 L546.3 261.3 L547.5 256.2 L548.6 256.5 L549.8 258.5 L551.0 267.8 L552.2 265.7 L553.4 257.7 L554.6 266.8 L555.7 269.1 L556.9 264.5 L558.1 260.6 L559.3 269.6 L560.5 262.4 L561.6 273.3 L562.8 261.8 L564.0 260.9 L565.2 274.6 L566.4 266.6 L567.6 272.3 L568.7 272.1 L569.9 261.1 L571.1 269.9 L572.3 285.3 L573.5 278.9 L574.7 279.4 L575.8 263.2 L577.0 284.5 L578.2 274.4 L579.4 272.8 L580.6 272.8 L581.8 266.9 L582.9 273.8 L584.1 280.9 L585.3 273.7 L586.5 281.7 L587.7 282.4 L588.8 274.9 L590.0 284.9 L591.2 287.3 L592.4 290.8 L593.6 291.2 L594.8 288.0 L595.9 286.1 L597.1 286.5 L598.3 281.7 L599.5 286.4 L600.7 273.5 L601.9 277.9 L603.0 290.3 L604.2 295.9 L605.4 283.2 L606.6 286.5 L607.8 288.9 L609.0 293.8 L610.1 291.0 L611.3 285.3 L612.5 286.6"/>
<path stroke="#66F5F0" d="M316.9 188.7 L318.0 187.0 L319.2 184.1 L320.4 199.8 L321.6 191.6 L322.8 196.1 L323.9 185.0 L325.1 190.9 L326.3 188.7 L327.5 192.0 L328.7 203.0 L329.9 188.2 L331.0 185.0 L332.2 186.7 L333.4 188.6 L334.6 179.6 L335.8 189.7 L337.0 195.0 L338.1 193.2 L339.3 194.0 L340.5 195.1 L341.7 193.0 L342.9 189.7 L344.0 189.0 L345.2 184.4 L346.4 198.5 L347.6 191.8 L348.8 190.0 L350.0 193.4 L351.1 212.3 L352.3 185.3 L353.5 186.2 L354.7 189.4 L355.9 190.7 L357.1 167.5 L358.2 195.3 L359.4 196.4 L360.6 184.8 L361.8 187.3 L363.0 193.8 L364.2 183.8 L365.3 192.0 L366.5 196.4 L367.7 197.7 L368.9 181.3 L370.1 196.3 L371.2 199.2 L372.4 194.7 L373.6 198.8 L374.8 191.5 L376.0 196.1 L377.2 191.7 L378.3 184.1 L379.5 192.3 L380.7 190.3 L381.9 188.4 L383.1 191.0 L384.3 191.2 L385.4 189.4 L386.6 190.1 L387.8 187.9 L389.0 185.8 L390.2 189.3 L391.4 180.7 L392.5 192.2 L393.7 204.4 L394.9 183.7 L396.1 189.4 L397.3 184.6 L398.4 199.8 L399.6 193.2 L400.8 189.9 L402.0 187.6 L403.2 199.4 L404.4 183.5 L405.5 188.5 L406.7 184.6 L407.9 197.8 L409.1 187.7 L410.3 195.3 L411.5 188.6 L412.6 188.8 L413.8 194.8 L415.0 187.2 L416.2 193.2 L417.4 190.7 L418.6 185.0 L419.7 194.3 L420.9 191.8 L422.1 195.6 L423.3 184.4 L424.5 182.6 L425.6 182.1 L426.8 189.9 L428.0 195.5 L429.2 190.5 L430.4 184.6 L431.6 189.8 L432.7 195.0 L433.9 188.2 L435.1 205.3 L436.3 198.8 L437.5 201.2 L438.7 191.3 L439.8 192.0 L441.0 195.7 L442.2 191.4 L443.4 197.9 L444.6 189.9 L445.8 196.9 L446.9 191.1 L448.1 194.6 L449.3 179.9 L450.5 192.0 L451.7 194.1 L452.8 201.1 L454.0 199.9 L455.2 191.2 L456.4 192.2 L457.6 179.8 L458.8 181.5 L459.9 198.9 L461.1 200.2 L462.3 191.1 L463.5 202.7 L464.7 196.0 L465.9 191.5 L467.0 198.0 L468.2 189.8 L469.4 190.5 L470.6 194.1 L471.8 194.3 L473.0 192.6 L474.1 196.7 L475.3 206.1 L476.5 195.0 L477.7 191.7 L478.9 198.1 L480.0 192.7 L481.2 187.1 L482.4 197.2 L483.6 196.6 L484.8 200.3 L486.0 193.1 L487.1 194.1 L488.3 201.8 L489.5 204.2 L490.7 204.0 L491.9 193.9 L493.1 191.8 L494.2 200.6 L495.4 204.3 L496.6 193.8 L497.8 199.8 L499.0 198.6 L500.2 193.8 L501.3 197.3 L502.5 202.0 L503.7 202.0 L504.9 206.3 L506.1 217.3 L507.2 208.3 L508.4 202.1 L509.6 200.1 L510.8 208.9 L512.0 200.5 L513.2 212.1 L514.3 216.1 L515.5 208.9 L516.7 208.4 L517.9 209.4 L519.1 204.4 L520.3 209.0 L521.4 213.1 L522.6 201.6 L523.8 216.4 L525.0 208.9 L526.2 211.1 L527.4 216.8 L528.5 209.5 L529.7 200.9 L530.9 212.5 L532.1 202.4 L533.3 225.9 L534.4 214.3 L535.6 215.7 L536.8 214.4 L538.0 235.1 L539.2 216.7 L540.4 220.9 L541.5 219.5 L542.7 210.6 L543.9 215.4 L545.1 213.3 L546.3 212.5 L547.5 219.5 L548.6 224.5 L549.8 218.7 L551.0 218.9 L552.2 228.4 L553.4 232.1 L554.6 221.4 L555.7 221.9 L556.9 222.6 L558.1 223.4 L559.3 231.7 L560.5 230.1 L561.6 219.3 L562.8 228.3 L564.0 226.3 L565.2 232.6 L566.4 230.5 L567.6 231.5 L568.7 227.1 L569.9 226.5 L571.1 229.0 L572.3 225.6 L573.5 233.0 L574.7 229.0 L575.8 226.2 L577.0 231.6 L578.2 232.0 L579.4 229.9 L580.6 240.9 L581.8 228.6 L582.9 238.5 L584.1 241.3 L585.3 233.8 L586.5 239.3 L587.7 243.0 L588.8 246.8 L590.0 240.9 L591.2 233.6 L592.4 243.2 L593.6 242.3 L594.8 227.5 L595.9 238.8 L597.1 241.8 L598.3 243.1 L599.5 248.3 L600.7 234.5 L601.9 241.4 L603.0 246.9 L604.2 228.6 L605.4 244.4 L606.6 264.6 L607.8 248.9 L609.0 244.2 L610.1 237.0 L611.3 246.3 L612.5 247.7"/>
<path stroke="#66F0CC" d="M316.9 183.9 L318.0 182.2 L319.2 180.7 L320.4 194.4 L321.6 195.8 L322.8 186.2 L323.9 191.4 L325.1 197.3 L326.3 186.0 L327.5 182.8 L328.7 193.0 L329.9 181.8 L331.0 187.8 L332.2 195.9 L333.4 183.7 L334.6 191.7 L335.8 200.0 L337.0 186.9 L338.1 187.8 L339.3 182.5 L340.5 193.1 L341.7 190.2 L342.9 182.7 L344.0 192.7 L345.2 182.0 L346.4 191.7 L347.6 198.3 L348.8 200.9 L350.0 187.3 L351.1 191.8 L352.3 185.5 L353.5 189.6 L354.7 196.0 L355.9 185.6 L357.1 174.5 L358.2 187.3 L359.4 191.7 L360.6 188.3 L361.8 188.1 L363.0 187.8 L364.2 178.8 L365.3 194.5 L366.5 190.6 L367.7 194.6 L368.9 195.4 L370.1 191.6 L371.2 189.7 L372.4 195.9 L373.6 178.3 L374.8 190.9 L376.0 191.0 L377.2 185.8 L378.3 190.9 L379.5 185.6 L380.7 189.7 L381.9 189.5 L383.1 183.1 L384.3 190.1 L385.4 191.9 L386.6 191.7 L387.8 192.7 L389.0 197.0 L390.2 193.8 L391.4 192.7 L392.5 200.7 L393.7 185.9 L394.9 197.8 L396.1 189.0 L397.3 182.8 L398.4 191.8 L399.6 177.4 L400.8 190.3 L402.0 192.5 L403.2 192.2 L404.4 184.3 L405.5 187.7 L406.7 188.5 L407.9 190.2 L409.1 181.6 L410.3 192.1 L411.5 190.7 L412.6 182.7 L413.8 199.7 L415.0 195.1 L416.2 192.5 L417.4 186.1 L418.6 190.8 L419.7 186.4 L420.9 183.8 L422.1 202.8 L423.3 184.5 L424.5 191.4 L425.6 196.9 L426.8 192.8 L428.0 197.4 L429.2 188.7 L430.4 196.6 L431.6 197.3 L432.7 188.1 L433.9 206.1 L435.1 190.2 L436.3 198.3 L437.5 193.2 L438.7 182.1 L439.8 193.5 L441.0 193.0 L442.2 193.6 L443.4 198.0 L444.6 185.3 L445.8 192.3 L446.9 185.2 L448.1 195.9 L449.3 191.0 L450.5 184.5 L451.7 190.7 L452.8 190.7 L454.0 197.1 L455.2 200.7 L456.4 194.4 L457.6 187.5 L458.8 195.4 L459.9 197.7 L461.1 183.4 L462.3 191.3 L463.5 191.7 L464.7 197.8 L465.9 201.0 L467.0 192.2 L468.2 194.9 L469.4 204.1 L470.6 195.4 L471.8 191.1 L473.0 196.3 L474.1 195.8 L475.3 196.9 L476.5 199.5 L477.7 193.1 L478.9 196.1 L480.0 202.3 L481.2 203.5 L482.4 193.1 L483.6 190.9 L484.8 194.5 L486.0 201.3 L487.1 201.9 L488.3 191.4 L489.5 203.2 L490.7 183.9 L491.9 191.9 L493.1 194.5 L494.2 199.4 L495.4 186.0 L496.6 190.1 L497.8 209.1 L499.0 205.3 L500.2 198.4 L501.3 194.9 L502.5 196.2 L503.7 193.1 L504.9 200.2 L506.1 211.5 L507.2 210.1 L508.4 193.5 L509.6 210.7 L510.8 208.5 L512.0 207.9 L513.2 202.7 L514.3 195.5 L515.5 208.5 L516.7 208.2 L517.9 216.2 L519.1 202.7 L520.3 204.9 L521.4 209.3 L522.6 210.7 L523.8 207.6 L525.0 211.7 L526.2 210.8 L527.4 206.8 L528.5 205.5 L529.7 215.1 L530.9 213.1 L532.1 212.0 L533.3 203.6 L534.4 208.2 L535.6 212.2 L536.8 220.0 L538.0 216.9 L539.2 212.3 L540.4 216.6 L541.5 206.7 L542.7 211.6 L543.9 224.4 L545.1 222.3 L546.3 220.1 L547.5 202.1 L548.6 220.2 L549.8 212.2 L551.0 222.7 L552.2 220.3 L553.4 226.9 L554.6 224.6 L555.7 221.5 L556.9 226.2 L558.1 230.4 L559.3 213.6 L560.5 224.3 L561.6 216.6 L562.8 223.1 L564.0 228.9 L565.2 229.4 L566.4 223.5 L567.6 222.2 L568.7 222.7 L569.9 226.4 L571.1 232.2 L572.3 223.7 L573.5 230.2 L574.7 221.5 L575.8 228.0 L577.0 233.8 L578.2 234.4 L579.4 241.4 L580.6 231.8 L581.8 229.0 L582.9 232.5 L584.1 236.8 L585.3 238.4 L586.5 244.1 L587.7 238.8 L588.8 244.3 L590.0 231.9 L591.2 230.9 L592.4 234.2 L593.6 245.3 L594.8 238.9 L595.9 247.7 L597.1 241.2 L598.3 243.1 L599.5 241.4 L600.7 246.8 L601.9 226.3 L603.0 242.8 L604.2 241.4 L605.4 235.4 L606.6 248.6 L607.8 235.2 L609.0 244.9 L610.1 241.6 L611.3 240.9 L612.5 250.7"/>
<path stroke="#55F099" d="M316.9 346.6 L318.0 357.5 L319.2 356.6 L320.4 353.7 L321.6 355.6 L322.8 346.6 L323.9 347.1 L325.1 355.8 L326.3 351.8 L327.5 349.2 L328.7 352.8 L329.9 349.3 L331.0 346.3 L332.2 349.7 L333.4 350.4 L334.6 356.5 L335.8 354.8 L337.0 351.0 L338.1 344.9 L339.3 360.1 L340.5 352.2 L341.7 346.7 L342.9 349.3 L344.0 354.9 L345.2 353.9 L346.4 355.6 L347.6 352.1 L348.8 352.0 L350.0 351.7 L351.1 350.0 L352.3 344.9 L353.5 349.2 L354.7 355.6 L355.9 356.6 L357.1 363.1 L358.2 359.0 L359.4 356.0 L360.6 356.2 L361.8 351.4 L363.0 352.0 L364.2 354.5 L365.3 361.8 L366.5 359.0 L367.7 355.1 L368.9 348.4 L370.1 356.7 L371.2 347.9 L372.4 350.3 L373.6 352.6 L374.8 353.7 L376.0 349.5 L377.2 351.8 L378.3 350.2 L379.5 357.4 L380.7 354.7 L381.9 354.0 L383.1 348.8 L384.3 353.9 L385.4 357.8 L386.6 357.7 L387.8 349.8 L389.0 348.9 L390.2 355.7 L391.4 356.8 L392.5 346.8 L393.7 353.2 L394.9 345.1 L396.1 354.2 L397.3 356.1 L398.4 352.8 L399.6 352.4 L400.8 354.1 L402.0 351.8 L403.2 355.0 L404.4 352.9 L405.5 347.2 L406.7 349.7 L407.9 346.3 L409.1 351.2 L410.3 348.5 L411.5 348.1 L412.6 354.2 L413.8 343.9 L415.0 351.8 L416.2 351.4 L417.4 354.1 L418.6 349.6 L419.7 343.2 L420.9 354.3 L422.1 359.6 L423.3 345.2 L424.5 353.1 L425.6 352.2 L426.8 354.7 L428.0 351.7 L429.2 348.3 L430.4 349.7 L431.6 349.1 L432.7 349.2 L433.9 352.7 L435.1 354.4 L436.3 352.5 L437.5 346.2 L438.7 350.6 L439.8 355.8 L441.0 353.5 L442.2 354.0 L443.4 359.2 L444.6 351.8 L445.8 346.1 L446.9 355.5 L448.1 351.0 L449.3 350.5 L450.5 350.0 L451.7 352.8 L452.8 348.9 L454.0 349.0 L455.2 348.3 L456.4 345.4 L457.6 349.1 L458.8 357.0 L459.9 357.4 L461.1 349.6 L462.3 354.6 L463.5 352.6 L464.7 355.3 L465.9 347.8 L467.0 345.9 L468.2 334.6 L469.4 357.6 L470.6 354.2 L471.8 349.7 L473.0 352.0 L474.1 363.3 L475.3 356.0 L476.5 354.2 L477.7 365.1 L478.9 363.8 L480.0 355.6 L481.2 350.2 L482.4 356.1 L483.6 361.2 L484.8 361.6 L486.0 346.6 L487.1 348.6 L488.3 347.6 L489.5 357.5 L490.7 355.8 L491.9 349.0 L493.1 351.5 L494.2 367.2 L495.4 351.5 L496.6 352.8 L497.8 364.2 L499.0 362.8 L500.2 363.1 L501.3 367.1 L502.5 368.6 L503.7 365.1 L504.9 370.0 L506.1 364.7 L507.2 363.2 L508.4 363.6 L509.6 363.9 L510.8 361.8 L512.0 364.7 L513.2 364.1 L514.3 366.6 L515.5 365.2 L516.7 362.7 L517.9 363.7 L519.1 371.7 L520.3 370.4 L521.4 376.2 L522.6 376.3 L523.8 366.8 L525.0 375.9 L526.2 380.5 L527.4 369.5 L528.5 391.6 L529.7 383.5 L530.9 381.3 L532.1 375.4 L533.3 377.9 L534.4 379.3 L535.6 382.3 L536.8 381.9 L538.0 387.6 L539.2 388.5 L540.4 391.6 L541.5 392.7 L542.7 389.2 L543.9 391.6 L545.1 402.2 L546.3 402.9 L547.5 397.2 L548.6 398.8 L549.8 396.6 L551.0 395.2 L552.2 401.1 L553.4 402.8 L554.6 400.1 L555.7 402.7 L556.9 409.2 L558.1 399.5 L559.3 405.8 L560.5 402.9 L561.6 405.9 L562.8 404.6 L564.0 413.2 L565.2 416.3 L566.4 409.1 L567.6 409.7 L568.7 417.4 L569.9 413.2 L571.1 414.0 L572.3 424.9 L573.5 425.5 L574.7 424.0 L575.8 416.4 L577.0 425.2 L578.2 421.6 L579.4 426.5 L580.6 424.1 L581.8 432.3 L582.9 428.6 L584.1 424.3 L585.3 430.3 L586.5 429.8 L587.7 422.8 L588.8 437.4 L590.0 439.9 L591.2 431.0 L592.4 434.6 L593.6 437.0 L594.8 431.5 L595.9 435.8 L597.1 449.4 L598.3 455.6 L599.5 445.2 L600.7 441.7 L601.9 449.6 L603.0 452.6 L604.2 441.5 L605.4 444.2 L606.6 448.0 L607.8 454.9 L609.0 451.5 L610.1 457.4 L611.3 455.7 L612.5 450.4"/>
<path stroke="#3CF858" d="M316.9 458.4 L318.0 461.3 L319.2 453.1 L320.4 466.7 L321.6 462.5 L322.8 456.0 L323.9 459.0 L325.1 450.1 L326.3 453.5 L327.5 454.0 L328.7 453.3 L329.9 453.5 L331.0 466.9 L332.2 464.5 L333.4 460.0 L334.6 452.5 L335.8 450.6 L337.0 459.0 L338.1 454.0 L339.3 454.0 L340.5 454.8 L341.7 455.7 L342.9 446.8 L344.0 452.8 L345.2 457.7 L346.4 456.5 L347.6 464.5 L348.8 454.9 L350.0 459.3 L351.1 450.1 L352.3 457.9 L353.5 455.5 L354.7 459.7 L355.9 453.3 L357.1 453.9 L358.2 462.7 L359.4 452.9 L360.6 456.2 L361.8 463.1 L363.0 456.5 L364.2 456.2 L365.3 455.8 L366.5 460.1 L367.7 461.0 L368.9 455.4 L370.1 449.4 L371.2 460.6 L372.4 456.2 L373.6 456.2 L374.8 462.7 L376.0 459.9 L377.2 454.1 L378.3 451.7 L379.5 455.6 L380.7 455.9 L381.9 462.2 L383.1 457.6 L384.3 459.5 L385.4 455.2 L386.6 456.4 L387.8 460.0 L389.0 456.1 L390.2 453.6 L391.4 460.6 L392.5 463.1 L393.7 461.1 L394.9 454.0 L396.1 453.3 L397.3 456.7 L398.4 463.1 L399.6 449.1 L400.8 450.6 L402.0 450.4 L403.2 453.9 L404.4 460.3 L405.5 454.5 L406.7 450.1 L407.9 462.8 L409.1 455.4 L410.3 456.0 L411.5 454.0 L412.6 456.6 L413.8 460.7 L415.0 450.1 L416.2 453.8 L417.4 454.0 L418.6 451.7 L419.7 451.7 L420.9 455.4 L422.1 459.3 L423.3 456.2 L424.5 459.2 L425.6 461.5 L426.8 464.6 L428.0 453.3 L429.2 458.4 L430.4 457.7 L431.6 452.0 L432.7 459.3 L433.9 445.8 L435.1 455.8 L436.3 459.4 L437.5 458.5 L438.7 457.7 L439.8 459.3 L441.0 455.7 L442.2 457.3 L443.4 453.2 L444.6 458.4 L445.8 451.2 L446.9 464.1 L448.1 454.7 L449.3 452.5 L450.5 452.3 L451.7 460.9 L452.8 452.5 L454.0 448.0 L455.2 464.9 L456.4 464.9 L457.6 460.4 L458.8 450.6 L459.9 457.4 L461.1 456.3 L462.3 454.6 L463.5 458.0 L464.7 456.5 L465.9 472.3 L467.0 458.2 L468.2 456.5 L469.4 458.4 L470.6 458.8 L471.8 461.3 L473.0 453.0 L474.1 463.1 L475.3 452.1 L476.5 449.3 L477.7 458.7 L478.9 462.6 L480.0 459.5 L481.2 460.0 L482.4 461.6 L483.6 461.4 L484.8 451.8 L486.0 463.0 L487.1 460.1 L488.3 460.1 L489.5 466.1 L490.7 461.9 L491.9 465.5 L493.1 468.9 L494.2 461.4 L495.4 456.2 L496.6 457.6 L497.8 458.2 L499.0 463.5 L500.2 467.6 L501.3 465.3 L502.5 470.6 L503.7 467.6 L504.9 462.2 L506.1 469.3 L507.2 472.4 L508.4 475.8 L509.6 470.9 L510.8 473.5 L512.0 466.0 L513.2 470.2 L514.3 474.1 L515.5 474.3 L516.7 471.6 L517.9 470.6 L519.1 468.8 L520.3 464.5 L521.4 468.4 L522.6 466.1 L523.8 477.3 L525.0 482.9 L526.2 479.5 L527.4 481.2 L528.5 479.3 L529.7 476.2 L530.9 468.4 L532.1 466.0 L533.3 470.9 L534.4 475.5 L535.6 478.1 L536.8 484.4 L538.0 477.7 L539.2 489.9 L540.4 475.4 L541.5 481.5 L542.7 483.6 L543.9 478.5 L545.1 481.9 L546.3 484.3 L547.5 476.8 L548.6 480.6 L549.8 481.0 L551.0 486.9 L552.2 485.0 L553.4 489.6 L554.6 487.4 L555.7 485.1 L556.9 489.1 L558.1 490.1 L559.3 497.7 L560.5 497.6 L561.6 490.8 L562.8 485.3 L564.0 483.2 L565.2 486.2 L566.4 488.0 L567.6 492.4 L568.7 490.1 L569.9 490.7 L571.1 500.9 L572.3 500.1 L573.5 498.1 L574.7 493.6 L575.8 487.4 L577.0 493.6 L578.2 496.7 L579.4 491.4 L580.6 499.8 L581.8 498.5 L582.9 491.2 L584.1 495.4 L585.3 497.1 L586.5 503.8 L587.7 500.9 L588.8 499.5 L590.0 509.2 L591.2 500.9 L592.4 500.4 L593.6 499.2 L594.8 503.6 L595.9 508.0 L597.1 499.7 L598.3 510.2 L599.5 505.5 L600.7 499.8 L601.9 507.8 L603.0 495.2 L604.2 502.3 L605.4 499.9 L606.6 508.8 L607.8 507.0 L609.0 513.3 L610.1 506.2 L611.3 519.0 L612.5 512.0"/>
<path stroke="#70F833" d="M316.9 349.2 L318.0 346.9 L319.2 346.1 L320.4 348.0 L321.6 350.9 L322.8 352.4 L323.9 347.6 L325.1 344.2 L326.3 343.1 L327.5 341.1 L328.7 339.9 L329.9 353.1 L331.0 352.6 L332.2 353.3 L333.4 351.4 L334.6 356.7 L335.8 354.2 L337.0 358.1 L338.1 356.7 L339.3 352.3 L340.5 348.4 L341.7 353.0 L342.9 351.2 L344.0 350.4 L345.2 353.3 L346.4 351.9 L347.6 346.3 L348.8 345.5 L350.0 359.7 L351.1 352.2 L352.3 352.1 L353.5 351.3 L354.7 346.0 L355.9 342.4 L357.1 352.5 L358.2 341.9 L359.4 348.6 L360.6 355.6 L361.8 344.4 L363.0 356.4 L364.2 356.7 L365.3 349.5 L366.5 340.2 L367.7 345.2 L368.9 339.3 L370.1 341.4 L371.2 334.8 L372.4 346.9 L373.6 341.3 L374.8 351.9 L376.0 354.2 L377.2 344.0 L378.3 347.4 L379.5 355.4 L380.7 353.9 L381.9 350.5 L383.1 352.2 L384.3 347.8 L385.4 351.8 L386.6 342.6 L387.8 345.8 L389.0 344.7 L390.2 350.3 L391.4 351.3 L392.5 350.0 L393.7 349.9 L394.9 347.8 L396.1 343.5 L397.3 341.6 L398.4 350.7 L399.6 353.0 L400.8 353.0 L402.0 341.1 L403.2 349.6 L404.4 346.2 L405.5 350.7 L406.7 344.4 L407.9 343.3 L409.1 349.9 L410.3 346.1 L411.5 342.6 L412.6 343.7 L413.8 347.5 L415.0 354.6 L416.2 349.9 L417.4 346.4 L418.6 349.5 L419.7 354.8 L420.9 347.4 L422.1 343.8 L423.3 343.7 L424.5 347.2 L425.6 344.0 L426.8 346.6 L428.0 360.1 L429.2 358.9 L430.4 352.7 L431.6 351.3 L432.7 353.2 L433.9 347.5 L435.1 344.1 L436.3 351.1 L437.5 353.8 L438.7 352.0 L439.8 353.6 L441.0 350.1 L442.2 359.5 L443.4 357.2 L444.6 341.7 L445.8 346.9 L446.9 342.8 L448.1 356.5 L449.3 351.9 L450.5 354.7 L451.7 350.7 L452.8 346.6 L454.0 345.1 L455.2 358.5 L456.4 351.7 L457.6 347.6 L458.8 343.0 L459.9 345.1 L461.1 348.5 L462.3 350.4 L463.5 355.3 L464.7 349.4 L465.9 351.2 L467.0 353.7 L468.2 348.7 L469.4 355.8 L470.6 357.4 L471.8 357.1 L473.0 358.8 L474.1 352.6 L475.3 350.0 L476.5 353.1 L477.7 352.8 L478.9 354.4 L480.0 356.0 L481.2 351.8 L482.4 351.8 L483.6 359.2 L484.8 345.7 L486.0 352.2 L487.1 349.4 L488.3 362.1 L489.5 360.4 L490.7 354.8 L491.9 358.9 L493.1 356.7 L494.2 350.1 L495.4 353.6 L496.6 348.9 L497.8 359.6 L499.0 356.2 L500.2 362.0 L501.3 358.9 L502.5 357.1 L503.7 357.1 L504.9 352.3 L506.1 358.6 L507.2 358.7 L508.4 363.4 L509.6 355.6 L510.8 358.1 L512.0 360.2 L513.2 367.8 L514.3 359.6 L515.5 367.9 L516.7 363.6 L517.9 371.1 L519.1 360.0 L520.3 365.2 L521.4 375.8 L522.6 371.7 L523.8 379.4 L525.0 382.5 L526.2 376.8 L527.4 374.4 L528.5 377.5 L529.7 374.0 L530.9 371.0 L532.1 382.2 L533.3 385.6 L534.4 382.5 L535.6 377.6 L536.8 376.5 L538.0 387.0 L539.2 385.7 L540.4 380.4 L541.5 396.0 L542.7 385.2 L543.9 382.2 L545.1 393.7 L546.3 387.9 L547.5 392.7 L548.6 388.8 L549.8 392.4 L551.0 398.0 L552.2 394.4 L553.4 396.3 L554.6 396.4 L555.7 406.2 L556.9 406.6 L558.1 407.9 L559.3 400.9 L560.5 401.5 L561.6 404.8 L562.8 404.7 L564.0 399.7 L565.2 407.5 L566.4 412.7 L567.6 420.6 L568.7 416.9 L569.9 424.7 L571.1 423.4 L572.3 411.0 L573.5 419.3 L574.7 417.4 L575.8 414.2 L577.0 414.5 L578.2 420.4 L579.4 420.1 L580.6 426.0 L581.8 425.4 L582.9 430.5 L584.1 432.7 L585.3 426.1 L586.5 433.4 L587.7 438.7 L588.8 434.0 L590.0 431.9 L591.2 431.3 L592.4 443.6 L593.6 432.0 L594.8 428.7 L595.9 429.3 L597.1 435.6 L598.3 437.3 L599.5 436.6 L600.7 433.4 L601.9 435.1 L603.0 437.0 L604.2 432.7 L605.4 450.8 L606.6 456.7 L607.8 446.6 L609.0 445.6 L610.1 451.8 L611.3 449.1 L612.5 444.7"/>
<path stroke="#C4F82C" d="M316.9 344.3 L318.0 348.7 L319.2 345.8 L320.4 343.9 L321.6 348.6 L322.8 338.5 L323.9 333.7 L325.1 338.5 L326.3 346.9 L327.5 350.7 L328.7 351.4 L329.9 335.7 L331.0 344.6 L332.2 345.7 L333.4 340.0 L334.6 331.4 L335.8 347.3 L337.0 346.4 L338.1 343.6 L339.3 339.7 L340.5 349.6 L341.7 345.6 L342.9 350.3 L344.0 352.5 L345.2 353.1 L346.4 347.2 L347.6 351.8 L348.8 347.3 L350.0 338.3 L351.1 344.5 L352.3 336.5 L353.5 342.3 L354.7 343.5 L355.9 340.1 L357.1 339.7 L358.2 341.8 L359.4 352.0 L360.6 340.8 L361.8 346.5 L363.0 342.8 L364.2 345.2 L365.3 345.2 L366.5 337.4 L367.7 339.0 L368.9 339.6 L370.1 345.0 L371.2 345.8 L372.4 341.6 L373.6 345.3 L374.8 357.9 L376.0 345.8 L377.2 344.8 L378.3 342.7 L379.5 352.8 L380.7 344.8 L381.9 338.5 L383.1 343.9 L384.3 341.6 L385.4 347.2 L386.6 350.4 L387.8 340.6 L389.0 350.0 L390.2 341.5 L391.4 343.4 L392.5 346.1 L393.7 339.3 L394.9 339.4 L396.1 349.0 L397.3 346.0 L398.4 352.1 L399.6 347.4 L400.8 342.1 L402.0 349.7 L403.2 341.9 L404.4 352.8 L405.5 344.7 L406.7 353.3 L407.9 350.1 L409.1 350.1 L410.3 345.2 L411.5 351.8 L412.6 348.7 L413.8 348.3 L415.0 341.2 L416.2 351.4 L417.4 353.7 L418.6 345.1 L419.7 351.7 L420.9 335.7 L422.1 339.4 L423.3 353.9 L424.5 344.7 L425.6 345.1 L426.8 347.9 L428.0 351.7 L429.2 354.6 L430.4 349.5 L431.6 340.8 L432.7 337.4 L433.9 342.9 L435.1 344.1 L436.3 342.3 L437.5 344.8 L438.7 349.5 L439.8 347.4 L441.0 344.2 L442.2 347.9 L443.4 353.8 L444.6 344.7 L445.8 343.3 L446.9 338.0 L448.1 350.4 L449.3 346.4 L450.5 346.1 L451.7 345.4 L452.8 346.4 L454.0 361.3 L455.2 349.3 L456.4 350.3 L457.6 349.7 L458.8 354.7 L459.9 353.8 L461.1 343.5 L462.3 344.8 L463.5 339.4 L464.7 341.3 L465.9 345.3 L467.0 344.9 L468.2 360.4 L469.4 347.7 L470.6 350.3 L471.8 343.6 L473.0 360.1 L474.1 348.0 L475.3 348.0 L476.5 351.1 L477.7 347.2 L478.9 348.1 L480.0 344.2 L481.2 354.3 L482.4 357.9 L483.6 355.2 L484.8 355.4 L486.0 350.7 L487.1 338.5 L488.3 353.2 L489.5 352.8 L490.7 347.5 L491.9 352.0 L493.1 342.3 L494.2 350.6 L495.4 356.5 L496.6 355.8 L497.8 355.3 L499.0 356.2 L500.2 353.1 L501.3 356.7 L502.5 356.7 L503.7 347.6 L504.9 358.2 L506.1 359.8 L507.2 356.1 L508.4 364.6 L509.6 357.9 L510.8 361.5 L512.0 359.2 L513.2 359.4 L514.3 349.3 L515.5 361.4 L516.7 362.0 L517.9 360.8 L519.1 362.5 L520.3 367.0 L521.4 352.1 L522.6 368.9 L523.8 375.8 L525.0 372.9 L526.2 368.2 L527.4 368.4 L528.5 366.4 L529.7 377.6 L530.9 374.4 L532.1 374.2 L533.3 373.0 L534.4 367.0 L535.6 371.8 L536.8 383.3 L538.0 383.1 L539.2 378.1 L540.4 385.4 L541.5 387.4 L542.7 384.2 L543.9 388.6 L545.1 386.0 L546.3 389.8 L547.5 400.9 L548.6 381.3 L549.8 392.3 L551.0 389.6 L552.2 389.8 L553.4 386.7 L554.6 390.1 L555.7 392.4 L556.9 394.1 L558.1 394.4 L559.3 399.2 L560.5 400.5 L561.6 401.9 L562.8 400.1 L564.0 396.9 L565.2 407.4 L566.4 400.9 L567.6 396.6 L568.7 399.7 L569.9 400.5 L571.1 405.7 L572.3 403.5 L573.5 408.6 L574.7 415.0 L575.8 411.2 L577.0 408.0 L578.2 415.3 L579.4 422.3 L580.6 410.5 L581.8 418.1 L582.9 418.8 L584.1 422.7 L585.3 425.2 L586.5 428.0 L587.7 420.6 L588.8 420.8 L590.0 427.2 L591.2 419.8 L592.4 425.5 L593.6 419.7 L594.8 423.3 L595.9 425.2 L597.1 421.4 L598.3 423.4 L599.5 437.5 L600.7 418.9 L601.9 418.2 L603.0 438.9 L604.2 444.6 L605.4 426.4 L606.6 424.8 L607.8 419.5 L609.0 426.6 L610.1 436.4 L611.3 430.8 L612.5 440.0"/>
<path stroke="#E8F033" d="M316.9 340.4 L318.0 335.5 L319.2 339.9 L320.4 322.5 L321.6 338.4 L322.8 334.3 L323.9 330.2 L325.1 333.3 L326.3 321.3 L327.5 319.8 L328.7 331.8 L329.9 326.7 L331.0 334.1 L332.2 349.8 L333.4 338.4 L334.6 328.9 L335.8 336.6 L337.0 332.8 L338.1 331.0 L339.3 335.3 L340.5 330.8 L341.7 332.1 L342.9 333.7 L344.0 327.0 L345.2 332.3 L346.4 333.5 L347.6 330.5 L348.8 336.6 L350.0 333.3 L351.1 331.4 L352.3 339.3 L353.5 339.9 L354.7 324.9 L355.9 328.5 L357.1 331.0 L358.2 337.7 L359.4 337.8 L360.6 350.3 L361.8 340.1 L363.0 334.5 L364.2 324.7 L365.3 325.8 L366.5 349.2 L367.7 337.7 L368.9 342.8 L370.1 330.6 L371.2 320.8 L372.4 342.0 L373.6 335.0 L374.8 335.5 L376.0 331.6 L377.2 337.8 L378.3 324.7 L379.5 348.1 L380.7 343.0 L381.9 338.6 L383.1 340.8 L384.3 330.6 L385.4 338.0 L386.6 334.2 L387.8 330.0 L389.0 328.9 L390.2 336.9 L391.4 333.7 L392.5 344.8 L393.7 343.7 L394.9 333.4 L396.1 345.8 L397.3 329.9 L398.4 328.5 L399.6 313.4 L400.8 329.3 L402.0 336.2 L403.2 336.5 L404.4 331.5 L405.5 340.4 L406.7 345.4 L407.9 342.5 L409.1 342.8 L410.3 339.9 L411.5 341.0 L412.6 345.4 L413.8 347.0 L415.0 343.2 L416.2 351.5 L417.4 337.6 L418.6 330.5 L419.7 337.3 L420.9 324.3 L422.1 335.7 L423.3 337.6 L424.5 341.5 L425.6 348.1 L426.8 339.0 L428.0 342.2 L429.2 339.4 L430.4 343.6 L431.6 344.2 L432.7 346.8 L433.9 335.4 L435.1 335.2 L436.3 343.7 L437.5 345.3 L438.7 350.6 L439.8 338.8 L441.0 344.9 L442.2 341.5 L443.4 349.9 L444.6 326.9 L445.8 340.7 L446.9 345.7 L448.1 329.5 L449.3 342.3 L450.5 344.8 L451.7 342.1 L452.8 345.8 L454.0 344.4 L455.2 332.4 L456.4 349.7 L457.6 346.4 L458.8 334.7 L459.9 330.9 L461.1 338.8 L462.3 350.3 L463.5 354.0 L464.7 351.4 L465.9 348.4 L467.0 351.0 L468.2 341.5 L469.4 336.7 L470.6 332.9 L471.8 334.9 L473.0 347.5 L474.1 334.6 L475.3 345.6 L476.5 357.6 L477.7 351.2 L478.9 349.9 L480.0 347.0 L481.2 347.6 L482.4 346.8 L483.6 353.0 L484.8 343.8 L486.0 341.1 L487.1 345.7 L488.3 345.2 L489.5 333.3 L490.7 349.2 L491.9 334.0 L493.1 346.7 L494.2 339.9 L495.4 364.1 L496.6 347.6 L497.8 354.5 L499.0 350.0 L500.2 347.9 L501.3 350.3 L502.5 352.8 L503.7 358.0 L504.9 346.0 L506.1 350.6 L507.2 359.3 L508.4 343.5 L509.6 354.0 L510.8 345.6 L512.0 352.5 L513.2 356.2 L514.3 355.1 L515.5 364.0 L516.7 355.9 L517.9 376.5 L519.1 360.3 L520.3 377.3 L521.4 352.7 L522.6 364.0 L523.8 371.0 L525.0 366.6 L526.2 367.9 L527.4 364.6 L528.5 372.6 L529.7 362.7 L530.9 375.0 L532.1 385.9 L533.3 360.3 L534.4 370.8 L535.6 374.1 L536.8 377.2 L538.0 380.3 L539.2 380.8 L540.4 374.9 L541.5 369.5 L542.7 390.0 L543.9 379.9 L545.1 397.5 L546.3 390.1 L547.5 389.5 L548.6 394.9 L549.8 394.0 L551.0 399.7 L552.2 389.9 L553.4 397.3 L554.6 387.4 L555.7 394.4 L556.9 409.5 L558.1 404.2 L559.3 412.7 L560.5 386.5 L561.6 400.2 L562.8 402.5 L564.0 399.3 L565.2 420.9 L566.4 422.0 L567.6 417.8 L568.7 402.5 L569.9 399.4 L571.1 404.4 L572.3 396.4 L573.5 420.6 L574.7 420.9 L575.8 415.5 L577.0 430.3 L578.2 438.1 L579.4 414.2 L580.6 427.1 L581.8 428.8 L582.9 424.3 L584.1 412.6 L585.3 427.5 L586.5 439.1 L587.7 439.3 L588.8 435.9 L590.0 422.5 L591.2 428.9 L592.4 437.5 L593.6 443.9 L594.8 449.7 L595.9 455.2 L597.1 447.6 L598.3 439.6 L599.5 430.2 L600.7 434.3 L601.9 446.3 L603.0 442.1 L604.2 454.1 L605.4 452.9 L606.6 449.9 L607.8 452.1 L609.0 453.0 L610.1 447.4 L611.3 451.7 L612.5 456.9"/>
<path stroke="#F0E033" d="M316.9 295.5 L318.0 300.8 L319.2 295.1 L320.4 304.3 L321.6 295.6 L322.8 296.6 L323.9 295.0 L325.1 306.9 L326.3 296.1 L327.5 292.5 L328.7 291.4 L329.9 291.1 L331.0 298.3 L332.2 299.1 L333.4 298.5 L334.6 283.7 L335.8 297.8 L337.0 294.6 L338.1 297.0 L339.3 295.4 L340.5 284.6 L341.7 296.3 L342.9 290.5 L344.0 287.7 L345.2 296.7 L346.4 290.9 L347.6 293.8 L348.8 299.3 L350.0 296.9 L351.1 289.3 L352.3 294.5 L353.5 292.2 L354.7 295.9 L355.9 297.0 L357.1 279.7 L358.2 291.9 L359.4 306.6 L360.6 305.4 L361.8 297.3 L363.0 302.7 L364.2 301.0 L365.3 290.2 L366.5 299.8 L367.7 291.0 L368.9 293.7 L370.1 290.7 L371.2 289.1 L372.4 297.2 L373.6 288.3 L374.8 300.4 L376.0 291.8 L377.2 310.6 L378.3 290.2 L379.5 287.6 L380.7 305.9 L381.9 308.7 L383.1 301.4 L384.3 306.2 L385.4 301.5 L386.6 290.9 L387.8 308.1 L389.0 295.6 L390.2 289.1 L391.4 297.1 L392.5 287.0 L393.7 298.2 L394.9 289.5 L396.1 289.0 L397.3 299.7 L398.4 302.5 L399.6 301.3 L400.8 287.4 L402.0 286.0 L403.2 295.9 L404.4 292.2 L405.5 300.3 L406.7 299.1 L407.9 295.4 L409.1 299.9 L410.3 309.5 L411.5 296.8 L412.6 293.9 L413.8 311.2 L415.0 298.6 L416.2 296.7 L417.4 285.4 L418.6 293.9 L419.7 308.0 L420.9 304.5 L422.1 298.1 L423.3 302.1 L424.5 305.6 L425.6 297.7 L426.8 301.5 L428.0 286.4 L429.2 294.2 L430.4 297.5 L431.6 296.1 L432.7 294.2 L433.9 286.1 L435.1 299.3 L436.3 297.1 L437.5 299.7 L438.7 301.2 L439.8 296.7 L441.0 292.8 L442.2 295.7 L443.4 311.5 L444.6 306.3 L445.8 305.6 L446.9 302.5 L448.1 297.3 L449.3 299.6 L450.5 305.7 L451.7 286.5 L452.8 294.3 L454.0 300.5 L455.2 294.4 L456.4 296.9 L457.6 308.6 L458.8 306.3 L459.9 298.9 L461.1 304.3 L462.3 299.7 L463.5 294.7 L464.7 297.6 L465.9 306.5 L467.0 285.7 L468.2 296.9 L469.4 296.8 L470.6 301.9 L471.8 300.7 L473.0 301.2 L474.1 306.7 L475.3 299.8 L476.5 298.8 L477.7 300.5 L478.9 300.5 L480.0 302.2 L481.2 302.0 L482.4 300.3 L483.6 291.5 L484.8 303.3 L486.0 303.3 L487.1 299.3 L488.3 295.2 L489.5 306.1 L490.7 290.6 L491.9 301.5 L493.1 294.7 L494.2 307.8 L495.4 306.7 L496.6 311.1 L497.8 305.7 L499.0 315.9 L500.2 309.0 L501.3 292.1 L502.5 309.4 L503.7 321.6 L504.9 301.4 L506.1 299.2 L507.2 306.7 L508.4 305.3 L509.6 304.3 L510.8 316.3 L512.0 312.3 L513.2 307.1 L514.3 290.7 L515.5 310.6 L516.7 305.1 L517.9 304.3 L519.1 323.4 L520.3 307.7 L521.4 307.3 L522.6 314.2 L523.8 317.3 L525.0 313.2 L526.2 319.2 L527.4 310.6 L528.5 323.6 L529.7 305.0 L530.9 310.4 L532.1 308.1 L533.3 311.6 L534.4 312.9 L535.6 320.0 L536.8 329.1 L538.0 322.7 L539.2 313.9 L540.4 323.4 L541.5 318.2 L542.7 313.5 L543.9 319.8 L545.1 326.4 L546.3 326.4 L547.5 332.4 L548.6 329.8 L549.8 331.1 L551.0 331.6 L552.2 330.5 L553.4 323.0 L554.6 332.0 L555.7 323.1 L556.9 326.6 L558.1 333.0 L559.3 337.1 L560.5 340.3 L561.6 335.1 L562.8 342.4 L564.0 341.8 L565.2 332.8 L566.4 346.8 L567.6 338.1 L568.7 329.1 L569.9 345.5 L571.1 344.8 L572.3 343.3 L573.5 339.8 L574.7 344.9 L575.8 355.8 L577.0 355.1 L578.2 344.2 L579.4 356.1 L580.6 351.4 L581.8 346.2 L582.9 351.7 L584.1 344.6 L585.3 355.5 L586.5 362.9 L587.7 342.9 L588.8 342.2 L590.0 359.0 L591.2 358.6 L592.4 367.2 L593.6 358.4 L594.8 356.0 L595.9 366.9 L597.1 362.0 L598.3 365.4 L599.5 363.3 L600.7 358.7 L601.9 369.7 L603.0 357.3 L604.2 352.7 L605.4 361.8 L606.6 380.0 L607.8 378.9 L609.0 365.3 L610.1 361.0 L611.3 362.3 L612.5 370.0"/>
<path stroke="#F0B028" d="M316.9 329.0 L318.0 333.4 L319.2 334.8 L320.4 331.6 L321.6 335.4 L322.8 323.7 L323.9 324.6 L325.1 331.7 L326.3 334.8 L327.5 337.5 L328.7 335.6 L329.9 333.0 L331.0 327.1 L332.2 332.2 L333.4 336.1 L334.6 332.3 L335.8 327.3 L337.0 334.3 L338.1 336.4 L339.3 331.4 L340.5 323.6 L341.7 334.5 L342.9 344.3 L344.0 325.3 L345.2 335.1 L346.4 334.5 L347.6 333.9 L348.8 335.9 L350.0 335.6 L351.1 337.3 L352.3 329.2 L353.5 331.2 L354.7 325.4 L355.9 332.8 L357.1 327.1 L358.2 334.9 L359.4 327.5 L360.6 328.8 L361.8 338.1 L363.0 327.2 L364.2 333.5 L365.3 330.1 L366.5 322.2 L367.7 331.9 L368.9 334.3 L370.1 329.2 L371.2 334.7 L372.4 337.5 L373.6 342.8 L374.8 329.0 L376.0 328.0 L377.2 331.5 L378.3 326.0 L379.5 329.0 L380.7 330.5 L381.9 329.5 L383.1 344.2 L384.3 325.8 L385.4 334.9 L386.6 330.3 L387.8 331.8 L389.0 334.9 L390.2 325.0 L391.4 327.7 L392.5 333.9 L393.7 338.1 L394.9 334.4 L396.1 329.2 L397.3 337.1 L398.4 335.1 L399.6 328.9 L400.8 328.3 L402.0 322.6 L403.2 333.5 L404.4 332.4 L405.5 335.4 L406.7 335.4 L407.9 333.0 L409.1 335.3 L410.3 337.2 L411.5 340.1 L412.6 334.9 L413.8 340.2 L415.0 327.4 L416.2 330.3 L417.4 330.6 L418.6 330.0 L419.7 331.3 L420.9 330.6 L422.1 324.1 L423.3 338.1 L424.5 329.8 L425.6 334.0 L426.8 333.1 L428.0 337.1 L429.2 338.9 L430.4 336.0 L431.6 336.5 L432.7 342.4 L433.9 337.1 L435.1 333.9 L436.3 335.3 L437.5 336.5 L438.7 333.0 L439.8 341.4 L441.0 334.5 L442.2 339.5 L443.4 344.3 L444.6 338.5 L445.8 328.1 L446.9 324.0 L448.1 328.3 L449.3 331.8 L450.5 333.1 L451.7 337.5 L452.8 337.6 L454.0 341.8 L455.2 331.0 L456.4 335.2 L457.6 342.8 L458.8 342.6 L459.9 340.3 L461.1 343.7 L462.3 343.8 L463.5 345.0 L464.7 344.4 L465.9 335.0 L467.0 332.4 L468.2 327.4 L469.4 336.8 L470.6 341.6 L471.8 335.2 L473.0 337.1 L474.1 345.4 L475.3 332.8 L476.5 334.1 L477.7 336.9 L478.9 335.0 L480.0 341.9 L481.2 342.0 L482.4 345.5 L483.6 336.8 L484.8 342.8 L486.0 340.6 L487.1 343.5 L488.3 340.8 L489.5 342.7 L490.7 338.9 L491.9 338.5 L493.1 340.7 L494.2 335.0 L495.4 340.8 L496.6 341.1 L497.8 348.8 L499.0 348.9 L500.2 347.4 L501.3 344.0 L502.5 351.7 L503.7 346.4 L504.9 340.2 L506.1 340.7 L507.2 347.4 L508.4 354.9 L509.6 349.1 L510.8 346.4 L512.0 351.6 L513.2 341.5 L514.3 350.5 L515.5 348.4 L516.7 348.3 L517.9 345.2 L519.1 346.2 L520.3 352.2 L521.4 356.6 L522.6 348.0 L523.8 357.0 L525.0 354.6 L526.2 351.4 L527.4 348.2 L528.5 354.8 L529.7 357.7 L530.9 350.9 L532.1 351.1 L533.3 357.5 L534.4 363.2 L535.6 349.0 L536.8 357.0 L538.0 361.1 L539.2 362.0 L540.4 357.2 L541.5 364.3 L542.7 363.3 L543.9 359.1 L545.1 364.6 L546.3 360.8 L547.5 359.7 L548.6 361.1 L549.8 364.2 L551.0 357.0 L552.2 363.7 L553.4 361.7 L554.6 365.4 L555.7 363.2 L556.9 357.8 L558.1 364.6 L559.3 364.7 L560.5 359.9 L561.6 367.6 L562.8 363.2 L564.0 371.7 L565.2 374.8 L566.4 370.4 L567.6 372.1 L568.7 373.1 L569.9 366.4 L571.1 372.7 L572.3 367.3 L573.5 367.3 L574.7 372.3 L575.8 385.1 L577.0 377.4 L578.2 380.8 L579.4 371.0 L580.6 377.2 L581.8 380.6 L582.9 380.0 L584.1 378.1 L585.3 376.7 L586.5 386.2 L587.7 378.2 L588.8 385.7 L590.0 379.2 L591.2 388.0 L592.4 376.5 L593.6 377.8 L594.8 368.2 L595.9 378.0 L597.1 380.5 L598.3 387.5 L599.5 387.0 L600.7 393.1 L601.9 396.0 L603.0 389.5 L604.2 392.1 L605.4 396.0 L606.6 395.9 L607.8 394.5 L609.0 399.5 L610.1 395.1 L611.3 399.8 L612.5 394.4"/>
<path stroke="#F09028" d="M316.9 448.8 L318.0 435.9 L319.2 444.3 L320.4 433.6 L321.6 435.4 L322.8 453.3 L323.9 438.6 L325.1 436.7 L326.3 438.5 L327.5 443.2 L328.7 442.2 L329.9 453.8 L331.0 438.5 L332.2 441.5 L333.4 437.0 L334.6 436.5 L335.8 437.7 L337.0 427.6 L338.1 438.5 L339.3 441.4 L340.5 435.7 L341.7 438.4 L342.9 447.9 L344.0 434.7 L345.2 439.3 L346.4 447.6 L347.6 439.5 L348.8 443.0 L350.0 436.6 L351.1 438.3 L352.3 435.2 L353.5 440.4 L354.7 441.5 L355.9 449.1 L357.1 442.4 L358.2 434.4 L359.4 438.8 L360.6 430.8 L361.8 449.6 L363.0 430.7 L364.2 439.0 L365.3 433.7 L366.5 444.0 L367.7 441.1 L368.9 438.4 L370.1 444.5 L371.2 447.4 L372.4 436.4 L373.6 446.6 L374.8 442.6 L376.0 442.3 L377.2 448.4 L378.3 440.5 L379.5 445.1 L380.7 439.8 L381.9 439.4 L383.1 438.6 L384.3 437.1 L385.4 436.0 L386.6 444.7 L387.8 444.1 L389.0 430.0 L390.2 433.7 L391.4 435.0 L392.5 435.2 L393.7 440.0 L394.9 446.9 L396.1 452.9 L397.3 444.9 L398.4 435.7 L399.6 437.5 L400.8 438.0 L402.0 441.9 L403.2 452.6 L404.4 450.1 L405.5 443.0 L406.7 444.3 L407.9 440.3 L409.1 445.3 L410.3 427.4 L411.5 447.6 L412.6 444.2 L413.8 445.4 L415.0 453.1 L416.2 443.1 L417.4 442.5 L418.6 447.6 L419.7 439.8 L420.9 438.7 L422.1 446.0 L423.3 444.8 L424.5 432.1 L425.6 431.1 L426.8 438.9 L428.0 442.1 L429.2 440.1 L430.4 436.0 L431.6 442.9 L432.7 442.6 L433.9 448.9 L435.1 427.9 L436.3 425.8 L437.5 443.7 L438.7 443.1 L439.8 440.3 L441.0 442.2 L442.2 447.3 L443.4 443.3 L444.6 435.8 L445.8 442.6 L446.9 445.0 L448.1 437.4 L449.3 440.4 L450.5 439.5 L451.7 441.7 L452.8 432.4 L454.0 443.4 L455.2 429.9 L456.4 435.0 L457.6 448.9 L458.8 436.6 L459.9 426.2 L461.1 442.4 L462.3 438.9 L463.5 458.7 L464.7 437.5 L465.9 442.3 L467.0 444.5 L468.2 445.3 L469.4 441.8 L470.6 436.9 L471.8 444.5 L473.0 451.5 L474.1 447.7 L475.3 438.6 L476.5 436.1 L477.7 457.2 L478.9 431.4 L480.0 443.0 L481.2 443.1 L482.4 435.6 L483.6 449.0 L484.8 434.1 L486.0 442.6 L487.1 440.8 L488.3 442.0 L489.5 451.8 L490.7 444.0 L491.9 452.4 L493.1 453.0 L494.2 440.5 L495.4 437.6 L496.6 446.3 L497.8 446.9 L499.0 432.2 L500.2 449.6 L501.3 442.8 L502.5 446.8 L503.7 447.4 L504.9 451.5 L506.1 442.8 L507.2 445.8 L508.4 445.9 L509.6 443.1 L510.8 443.3 L512.0 453.0 L513.2 447.0 L514.3 446.1 L515.5 450.2 L516.7 444.1 L517.9 441.4 L519.1 453.4 L520.3 446.2 L521.4 446.5 L522.6 447.6 L523.8 442.9 L525.0 442.7 L526.2 448.0 L527.4 447.4 L528.5 448.9 L529.7 448.2 L530.9 444.5 L532.1 446.0 L533.3 448.7 L534.4 445.1 L535.6 445.5 L536.8 444.4 L538.0 435.1 L539.2 434.5 L540.4 447.3 L541.5 443.7 L542.7 452.1 L543.9 448.7 L545.1 461.0 L546.3 447.2 L547.5 434.3 L548.6 452.4 L549.8 453.7 L551.0 444.3 L552.2 458.6 L553.4 456.6 L554.6 450.6 L555.7 449.5 L556.9 446.6 L558.1 451.2 L559.3 461.5 L560.5 454.9 L561.6 453.4 L562.8 459.7 L564.0 447.1 L565.2 459.7 L566.4 454.4 L567.6 460.4 L568.7 452.4 L569.9 453.5 L571.1 453.2 L572.3 460.0 L573.5 452.4 L574.7 456.5 L575.8 461.2 L577.0 448.3 L578.2 463.5 L579.4 464.3 L580.6 453.6 L581.8 450.9 L582.9 471.1 L584.1 458.7 L585.3 456.3 L586.5 466.4 L587.7 456.4 L588.8 458.8 L590.0 457.4 L591.2 463.3 L592.4 461.0 L593.6 471.8 L594.8 461.7 L595.9 473.0 L597.1 460.8 L598.3 460.8 L599.5 458.1 L600.7 458.8 L601.9 461.5 L603.0 465.9 L604.2 464.3 L605.4 453.3 L606.6 448.7 L607.8 457.0 L609.0 471.9 L610.1 459.9 L611.3 456.4 L612.5 463.1"/>
<path stroke="#FF7018" d="M316.9 443.7 L318.0 433.9 L319.2 438.0 L320.4 444.2 L321.6 448.1 L322.8 438.3 L323.9 437.2 L325.1 437.6 L326.3 432.4 L327.5 440.3 L328.7 437.5 L329.9 434.3 L331.0 444.9 L332.2 433.4 L333.4 441.7 L334.6 439.3 L335.8 440.7 L337.0 442.8 L338.1 434.3 L339.3 427.8 L340.5 447.3 L341.7 437.8 L342.9 434.0 L344.0 435.9 L345.2 433.6 L346.4 426.9 L347.6 435.2 L348.8 435.4 L350.0 438.6 L351.1 443.0 L352.3 441.3 L353.5 439.4 L354.7 437.6 L355.9 442.7 L357.1 439.4 L358.2 447.3 L359.4 447.2 L360.6 434.1 L361.8 435.0 L363.0 436.5 L364.2 446.7 L365.3 447.5 L366.5 435.3 L367.7 434.0 L368.9 437.3 L370.1 446.4 L371.2 429.8 L372.4 444.9 L373.6 430.0 L374.8 430.6 L376.0 434.4 L377.2 443.7 L378.3 430.9 L379.5 441.2 L380.7 446.9 L381.9 440.6 L383.1 433.0 L384.3 451.7 L385.4 430.1 L386.6 441.8 L387.8 439.8 L389.0 431.4 L390.2 449.9 L391.4 443.8 L392.5 432.4 L393.7 441.1 L394.9 442.1 L396.1 438.4 L397.3 441.1 L398.4 436.2 L399.6 435.7 L400.8 438.0 L402.0 440.3 L403.2 431.5 L404.4 433.0 L405.5 447.7 L406.7 450.0 L407.9 444.6 L409.1 424.9 L410.3 444.5 L411.5 432.4 L412.6 426.8 L413.8 431.2 L415.0 449.8 L416.2 441.0 L417.4 439.0 L418.6 429.2 L419.7 453.4 L420.9 440.6 L422.1 441.0 L423.3 440.3 L424.5 444.7 L425.6 437.6 L426.8 437.6 L428.0 432.7 L429.2 429.7 L430.4 445.5 L431.6 434.5 L432.7 431.4 L433.9 450.7 L435.1 444.8 L436.3 446.5 L437.5 433.3 L438.7 441.2 L439.8 447.4 L441.0 436.7 L442.2 444.2 L443.4 443.7 L444.6 437.1 L445.8 432.9 L446.9 431.3 L448.1 439.9 L449.3 434.1 L450.5 431.6 L451.7 442.0 L452.8 444.0 L454.0 436.7 L455.2 428.6 L456.4 440.8 L457.6 434.7 L458.8 431.8 L459.9 442.1 L461.1 435.2 L462.3 445.8 L463.5 439.1 L464.7 447.3 L465.9 435.2 L467.0 440.4 L468.2 440.2 L469.4 440.7 L470.6 442.7 L471.8 442.7 L473.0 443.0 L474.1 446.8 L475.3 446.0 L476.5 433.0 L477.7 448.5 L478.9 439.7 L480.0 439.3 L481.2 442.2 L482.4 449.1 L483.6 444.1 L484.8 449.6 L486.0 439.0 L487.1 433.9 L488.3 439.8 L489.5 448.8 L490.7 434.3 L491.9 445.1 L493.1 441.5 L494.2 436.2 L495.4 449.3 L496.6 427.8 L497.8 445.5 L499.0 443.9 L500.2 444.7 L501.3 444.8 L502.5 444.8 L503.7 441.9 L504.9 433.7 L506.1 441.5 L507.2 445.1 L508.4 451.5 L509.6 446.6 L510.8 446.8 L512.0 432.2 L513.2 450.3 L514.3 441.1 L515.5 437.2 L516.7 442.3 L517.9 444.2 L519.1 456.6 L520.3 448.6 L521.4 434.7 L522.6 443.3 L523.8 446.8 L525.0 436.8 L526.2 441.4 L527.4 451.1 L528.5 443.8 L529.7 452.2 L530.9 445.0 L532.1 445.3 L533.3 450.1 L534.4 446.5 L535.6 440.4 L536.8 454.0 L538.0 440.8 L539.2 452.8 L540.4 440.0 L541.5 453.5 L542.7 443.2 L543.9 442.9 L545.1 453.5 L546.3 446.7 L547.5 452.2 L548.6 460.7 L549.8 449.6 L551.0 458.4 L552.2 439.8 L553.4 458.2 L554.6 448.1 L555.7 443.8 L556.9 453.1 L558.1 445.3 L559.3 446.8 L560.5 445.2 L561.6 445.5 L562.8 436.3 L564.0 448.7 L565.2 450.7 L566.4 441.3 L567.6 452.3 L568.7 456.0 L569.9 441.2 L571.1 449.0 L572.3 445.9 L573.5 447.9 L574.7 456.1 L575.8 453.4 L577.0 446.3 L578.2 445.0 L579.4 450.9 L580.6 453.9 L581.8 446.5 L582.9 454.0 L584.1 462.2 L585.3 460.5 L586.5 452.3 L587.7 448.2 L588.8 460.3 L590.0 447.9 L591.2 471.8 L592.4 456.8 L593.6 455.8 L594.8 465.1 L595.9 458.4 L597.1 450.1 L598.3 447.1 L599.5 453.6 L600.7 457.0 L601.9 452.9 L603.0 454.6 L604.2 455.8 L605.4 459.6 L606.6 449.6 L607.8 459.3 L609.0 460.6 L610.1 462.7 L611.3 460.3 L612.5 465.3"/>
<path stroke="#FF4010" d="M316.9 328.6 L318.0 319.7 L319.2 333.5 L320.4 324.7 L321.6 315.3 L322.8 311.5 L323.9 317.0 L325.1 317.7 L326.3 312.0 L327.5 314.8 L328.7 324.9 L329.9 329.0 L331.0 315.3 L332.2 310.8 L333.4 321.6 L334.6 322.0 L335.8 319.8 L337.0 327.6 L338.1 330.9 L339.3 326.1 L340.5 322.5 L341.7 329.0 L342.9 330.9 L344.0 331.5 L345.2 313.3 L346.4 315.8 L347.6 321.3 L348.8 312.2 L350.0 302.2 L351.1 319.9 L352.3 326.5 L353.5 322.3 L354.7 318.8 L355.9 311.6 L357.1 318.4 L358.2 314.0 L359.4 316.1 L360.6 321.0 L361.8 321.1 L363.0 326.4 L364.2 314.2 L365.3 306.4 L366.5 322.3 L367.7 305.4 L368.9 324.4 L370.1 307.7 L371.2 312.6 L372.4 323.2 L373.6 330.0 L374.8 330.7 L376.0 320.5 L377.2 315.6 L378.3 320.8 L379.5 325.9 L380.7 325.6 L381.9 334.0 L383.1 310.9 L384.3 326.9 L385.4 331.7 L386.6 332.9 L387.8 318.8 L389.0 316.5 L390.2 303.2 L391.4 317.5 L392.5 322.6 L393.7 336.3 L394.9 320.6 L396.1 330.3 L397.3 331.9 L398.4 332.5 L399.6 324.1 L400.8 328.2 L402.0 333.7 L403.2 305.8 L404.4 323.1 L405.5 321.6 L406.7 321.6 L407.9 322.1 L409.1 331.6 L410.3 313.6 L411.5 314.8 L412.6 323.9 L413.8 324.8 L415.0 299.1 L416.2 314.2 L417.4 317.1 L418.6 319.4 L419.7 311.2 L420.9 315.2 L422.1 316.5 L423.3 311.9 L424.5 320.3 L425.6 311.8 L426.8 328.8 L428.0 324.5 L429.2 319.9 L430.4 308.0 L431.6 304.8 L432.7 311.8 L433.9 311.1 L435.1 318.5 L436.3 323.4 L437.5 328.9 L438.7 327.7 L439.8 322.6 L441.0 323.4 L442.2 331.7 L443.4 319.5 L444.6 311.7 L445.8 313.7 L446.9 307.8 L448.1 318.8 L449.3 336.2 L450.5 319.4 L451.7 321.7 L452.8 322.3 L454.0 331.9 L455.2 314.3 L456.4 321.8 L457.6 332.6 L458.8 328.0 L459.9 326.2 L461.1 318.7 L462.3 332.2 L463.5 318.0 L464.7 318.0 L465.9 319.7 L467.0 317.1 L468.2 335.5 L469.4 337.4 L470.6 320.7 L471.8 320.0 L473.0 324.6 L474.1 313.9 L475.3 320.8 L476.5 315.6 L477.7 324.9 L478.9 325.2 L480.0 314.9 L481.2 312.7 L482.4 336.2 L483.6 321.9 L484.8 314.7 L486.0 312.7 L487.1 326.8 L488.3 316.2 L489.5 317.1 L490.7 318.4 L491.9 312.0 L493.1 329.4 L494.2 311.3 L495.4 316.3 L496.6 303.7 L497.8 312.1 L499.0 316.7 L500.2 310.1 L501.3 316.1 L502.5 336.5 L503.7 328.3 L504.9 328.1 L506.1 340.4 L507.2 319.1 L508.4 325.6 L509.6 329.5 L510.8 326.5 L512.0 332.0 L513.2 325.7 L514.3 332.4 L515.5 332.6 L516.7 330.8 L517.9 325.8 L519.1 326.2 L520.3 340.5 L521.4 334.6 L522.6 331.9 L523.8 333.4 L525.0 327.1 L526.2 332.5 L527.4 318.4 L528.5 316.3 L529.7 317.3 L530.9 330.4 L532.1 330.3 L533.3 319.0 L534.4 328.3 L535.6 346.8 L536.8 337.8 L538.0 348.5 L539.2 328.9 L540.4 327.3 L541.5 335.5 L542.7 329.8 L543.9 326.7 L545.1 337.7 L546.3 334.3 L547.5 338.5 L548.6 352.3 L549.8 350.6 L551.0 339.4 L552.2 331.4 L553.4 329.5 L554.6 336.9 L555.7 356.3 L556.9 357.7 L558.1 357.1 L559.3 344.3 L560.5 335.0 L561.6 355.7 L562.8 342.4 L564.0 353.8 L565.2 350.7 L566.4 360.4 L567.6 349.9 L568.7 355.5 L569.9 361.7 L571.1 354.4 L572.3 341.9 L573.5 350.8 L574.7 347.5 L575.8 359.1 L577.0 342.9 L578.2 353.8 L579.4 351.1 L580.6 342.2 L581.8 353.8 L582.9 354.6 L584.1 349.5 L585.3 352.8 L586.5 357.3 L587.7 361.3 L588.8 354.2 L590.0 366.4 L591.2 358.4 L592.4 368.5 L593.6 353.5 L594.8 362.1 L595.9 368.0 L597.1 357.1 L598.3 354.2 L599.5 374.1 L600.7 364.5 L601.9 366.9 L603.0 364.7 L604.2 367.9 L605.4 368.6 L606.6 354.1 L607.8 356.8 L609.0 364.5 L610.1 356.1 L611.3 362.3 L612.5 352.4"/>
<path stroke="#FF200C" d="M316.9 402.2 L318.0 396.3 L319.2 385.5 L320.4 389.1 L321.6 396.6 L322.8 398.7 L323.9 392.9 L325.1 399.6 L326.3 391.2 L327.5 397.0 L328.7 389.4 L329.9 393.9 L331.0 395.3 L332.2 403.9 L333.4 395.9 L334.6 391.9 L335.8 393.3 L337.0 395.1 L338.1 392.9 L339.3 399.2 L340.5 394.4 L341.7 395.7 L342.9 392.6 L344.0 400.9 L345.2 397.2 L346.4 394.2 L347.6 400.3 L348.8 392.7 L350.0 398.0 L351.1 394.3 L352.3 402.6 L353.5 394.6 L354.7 395.6 L355.9 394.4 L357.1 396.8 L358.2 394.5 L359.4 393.1 L360.6 398.8 L361.8 399.3 L363.0 400.6 L364.2 399.6 L365.3 398.5 L366.5 402.0 L367.7 391.3 L368.9 400.6 L370.1 399.5 L371.2 396.2 L372.4 393.2 L373.6 401.2 L374.8 391.7 L376.0 389.7 L377.2 397.1 L378.3 400.1 L379.5 403.1 L380.7 394.0 L381.9 396.6 L383.1 401.7 L384.3 400.9 L385.4 399.4 L386.6 399.7 L387.8 401.0 L389.0 392.9 L390.2 396.4 L391.4 395.4 L392.5 392.5 L393.7 402.7 L394.9 403.7 L396.1 404.0 L397.3 402.5 L398.4 406.2 L399.6 404.3 L400.8 397.3 L402.0 391.1 L403.2 387.5 L404.4 396.2 L405.5 404.4 L406.7 393.0 L407.9 394.9 L409.1 395.5 L410.3 401.1 L411.5 397.4 L412.6 396.6 L413.8 399.0 L415.0 408.1 L416.2 397.1 L417.4 399.1 L418.6 399.4 L419.7 394.2 L420.9 395.9 L422.1 401.8 L423.3 397.2 L424.5 393.5 L425.6 405.3 L426.8 405.2 L428.0 402.1 L429.2 404.9 L430.4 402.7 L431.6 393.4 L432.7 402.0 L433.9 391.3 L435.1 401.8 L436.3 405.4 L437.5 400.6 L438.7 398.8 L439.8 400.0 L441.0 406.3 L442.2 399.6 L443.4 397.8 L444.6 399.9 L445.8 396.7 L446.9 395.8 L448.1 401.1 L449.3 394.7 L450.5 397.0 L451.7 397.9 L452.8 400.2 L454.0 404.0 L455.2 392.3 L456.4 397.5 L457.6 403.2 L458.8 403.7 L459.9 410.6 L461.1 396.7 L462.3 397.8 L463.5 400.5 L464.7 392.7 L465.9 401.5 L467.0 403.3 L468.2 405.2 L469.4 403.1 L470.6 399.3 L471.8 393.0 L473.0 399.3 L474.1 411.6 L475.3 412.0 L476.5 399.5 L477.7 405.0 L478.9 409.4 L480.0 410.7 L481.2 402.1 L482.4 402.6 L483.6 398.8 L484.8 400.2 L486.0 398.4 L487.1 407.9 L488.3 402.5 L489.5 401.6 L490.7 408.1 L491.9 406.9 L493.1 405.1 L494.2 405.1 L495.4 405.2 L496.6 404.8 L497.8 406.7 L499.0 403.4 L500.2 406.7 L501.3 401.3 L502.5 409.7 L503.7 411.2 L504.9 408.9 L506.1 406.4 L507.2 404.2 L508.4 414.4 L509.6 408.5 L510.8 404.9 L512.0 418.5 L513.2 411.7 L514.3 411.9 L515.5 408.9 L516.7 408.4 L517.9 410.8 L519.1 406.2 L520.3 407.5 L521.4 411.7 L522.6 417.6 L523.8 415.5 L525.0 408.1 L526.2 412.1 L527.4 413.9 L528.5 405.6 L529.7 416.5 L530.9 406.3 L532.1 421.7 L533.3 415.6 L534.4 408.6 L535.6 422.7 L536.8 412.0 L538.0 417.8 L539.2 410.9 L540.4 414.7 L541.5 416.8 L542.7 410.9 L543.9 422.5 L545.1 426.2 L546.3 422.8 L547.5 419.9 L548.6 420.7 L549.8 419.6 L551.0 426.5 L552.2 417.1 L553.4 424.9 L554.6 419.0 L555.7 426.7 L556.9 424.0 L558.1 427.2 L559.3 418.7 L560.5 418.2 L561.6 427.7 L562.8 417.9 L564.0 422.1 L565.2 433.6 L566.4 426.4 L567.6 424.1 L568.7 432.8 L569.9 425.7 L571.1 435.3 L572.3 436.4 L573.5 436.8 L574.7 435.2 L575.8 429.6 L577.0 431.7 L578.2 432.3 L579.4 435.2 L580.6 438.3 L581.8 438.6 L582.9 431.7 L584.1 436.1 L585.3 431.5 L586.5 433.6 L587.7 429.0 L588.8 443.0 L590.0 446.1 L591.2 434.0 L592.4 427.8 L593.6 436.0 L594.8 437.6 L595.9 432.2 L597.1 436.4 L598.3 435.3 L599.5 434.1 L600.7 430.3 L601.9 436.2 L603.0 434.9 L604.2 434.8 L605.4 440.9 L606.6 435.9 L607.8 431.6 L609.0 431.1 L610.1 431.9 L611.3 432.1 L612.5 441.5"/>
<path stroke="#FF1808" d="M316.9 435.2 L318.0 436.2 L319.2 447.0 L320.4 445.1 L321.6 434.7 L322.8 436.0 L323.9 441.1 L325.1 436.9 L326.3 437.2 L327.5 439.0 L328.7 438.7 L329.9 451.6 L331.0 436.7 L332.2 446.4 L333.4 446.5 L334.6 440.8 L335.8 447.6 L337.0 436.2 L338.1 436.8 L339.3 442.1 L340.5 443.6 L341.7 444.1 L342.9 441.5 L344.0 437.7 L345.2 437.4 L346.4 448.6 L347.6 437.0 L348.8 436.1 L350.0 445.3 L351.1 444.6 L352.3 446.7 L353.5 447.3 L354.7 443.1 L355.9 446.6 L357.1 432.4 L358.2 445.5 L359.4 445.2 L360.6 447.0 L361.8 448.0 L363.0 431.2 L364.2 443.8 L365.3 436.6 L366.5 436.5 L367.7 444.2 L368.9 437.0 L370.1 432.7 L371.2 447.9 L372.4 435.0 L373.6 443.0 L374.8 441.4 L376.0 440.2 L377.2 450.5 L378.3 439.0 L379.5 446.9 L380.7 437.9 L381.9 439.9 L383.1 435.0 L384.3 451.5 L385.4 440.4 L386.6 447.5 L387.8 437.7 L389.0 440.9 L390.2 440.0 L391.4 443.8 L392.5 439.6 L393.7 437.6 L394.9 442.9 L396.1 446.8 L397.3 437.3 L398.4 440.7 L399.6 435.7 L400.8 446.6 L402.0 445.2 L403.2 437.9 L404.4 441.5 L405.5 441.5 L406.7 432.8 L407.9 441.4 L409.1 437.6 L410.3 445.3 L411.5 438.0 L412.6 443.6 L413.8 433.5 L415.0 434.6 L416.2 440.2 L417.4 443.6 L418.6 435.2 L419.7 436.2 L420.9 437.8 L422.1 432.6 L423.3 438.6 L424.5 437.0 L425.6 432.5 L426.8 438.8 L428.0 437.5 L429.2 449.3 L430.4 436.1 L431.6 440.1 L432.7 446.1 L433.9 442.9 L435.1 439.8 L436.3 443.2 L437.5 439.4 L438.7 440.5 L439.8 439.0 L441.0 438.0 L442.2 443.8 L443.4 442.5 L444.6 440.7 L445.8 445.5 L446.9 438.5 L448.1 449.4 L449.3 440.7 L450.5 435.1 L451.7 444.9 L452.8 444.5 L454.0 442.6 L455.2 439.4 L456.4 437.3 L457.6 443.0 L458.8 447.4 L459.9 442.2 L461.1 432.5 L462.3 443.7 L463.5 440.3 L464.7 442.8 L465.9 442.4 L467.0 442.9 L468.2 441.9 L469.4 435.1 L470.6 440.4 L471.8 439.9 L473.0 442.5 L474.1 442.0 L475.3 447.3 L476.5 445.2 L477.7 442.2 L478.9 442.7 L480.0 436.4 L481.2 448.8 L482.4 440.1 L483.6 442.7 L484.8 436.5 L486.0 439.9 L487.1 444.6 L488.3 444.4 L489.5 457.2 L490.7 448.0 L491.9 447.1 L493.1 435.9 L494.2 448.7 L495.4 441.8 L496.6 448.2 L497.8 439.1 L499.0 442.7 L500.2 450.1 L501.3 456.1 L502.5 437.2 L503.7 441.2 L504.9 443.8 L506.1 449.4 L507.2 449.8 L508.4 445.2 L509.6 446.1 L510.8 436.2 L512.0 458.9 L513.2 454.5 L514.3 443.8 L515.5 444.1 L516.7 445.6 L517.9 446.8 L519.1 447.4 L520.3 455.6 L521.4 453.0 L522.6 456.0 L523.8 447.9 L525.0 450.4 L526.2 454.2 L527.4 437.9 L528.5 456.4 L529.7 451.0 L530.9 451.4 L532.1 452.7 L533.3 444.1 L534.4 458.7 L535.6 452.8 L536.8 459.3 L538.0 445.6 L539.2 452.2 L540.4 447.9 L541.5 458.3 L542.7 453.7 L543.9 447.9 L545.1 458.6 L546.3 454.6 L547.5 459.6 L548.6 455.0 L549.8 453.4 L551.0 458.7 L552.2 451.5 L553.4 461.2 L554.6 461.4 L555.7 460.2 L556.9 461.5 L558.1 463.5 L559.3 453.6 L560.5 455.5 L561.6 456.3 L562.8 460.2 L564.0 454.2 L565.2 458.4 L566.4 462.6 L567.6 458.2 L568.7 444.1 L569.9 460.8 L571.1 458.4 L572.3 461.2 L573.5 450.8 L574.7 458.2 L575.8 453.9 L577.0 457.7 L578.2 445.4 L579.4 468.1 L580.6 467.0 L581.8 460.8 L582.9 463.7 L584.1 456.8 L585.3 454.2 L586.5 470.2 L587.7 460.4 L588.8 464.9 L590.0 463.0 L591.2 461.1 L592.4 465.8 L593.6 459.5 L594.8 470.9 L595.9 466.6 L597.1 471.6 L598.3 464.1 L599.5 464.1 L600.7 475.8 L601.9 473.5 L603.0 469.7 L604.2 463.7 L605.4 467.9 L606.6 471.1 L607.8 471.1 L609.0 471.2 L610.1 454.3 L611.3 462.3 L612.5 473.9"/>
<path stroke="#FF1C18" d="M316.9 432.0 L318.0 442.8 L319.2 438.3 L320.4 444.9 L321.6 443.0 L322.8 437.1 L323.9 440.2 L325.1 444.0 L326.3 441.9 L327.5 437.5 L328.7 439.2 L329.9 423.8 L331.0 433.6 L332.2 447.1 L333.4 433.1 L334.6 436.6 L335.8 432.1 L337.0 448.0 L338.1 439.4 L339.3 432.0 L340.5 446.4 L341.7 441.1 L342.9 439.6 L344.0 446.6 L345.2 437.1 L346.4 441.5 L347.6 449.2 L348.8 444.8 L350.0 438.5 L351.1 445.3 L352.3 436.3 L353.5 435.1 L354.7 441.5 L355.9 432.9 L357.1 443.4 L358.2 440.2 L359.4 435.0 L360.6 441.4 L361.8 437.8 L363.0 437.6 L364.2 434.3 L365.3 452.0 L366.5 433.0 L367.7 426.9 L368.9 438.8 L370.1 439.1 L371.2 436.0 L372.4 439.1 L373.6 429.4 L374.8 438.6 L376.0 436.9 L377.2 446.0 L378.3 435.0 L379.5 433.3 L380.7 445.3 L381.9 444.5 L383.1 434.8 L384.3 437.8 L385.4 445.3 L386.6 436.4 L387.8 433.7 L389.0 444.1 L390.2 442.9 L391.4 444.9 L392.5 429.8 L393.7 433.1 L394.9 442.0 L396.1 438.8 L397.3 447.8 L398.4 441.8 L399.6 438.7 L400.8 436.3 L402.0 443.7 L403.2 438.0 L404.4 432.4 L405.5 442.9 L406.7 437.2 L407.9 439.6 L409.1 443.5 L410.3 438.7 L411.5 445.1 L412.6 445.7 L413.8 445.7 L415.0 433.3 L416.2 444.5 L417.4 440.8 L418.6 438.5 L419.7 442.9 L420.9 435.4 L422.1 445.1 L423.3 440.1 L424.5 443.6 L425.6 440.0 L426.8 443.6 L428.0 442.2 L429.2 437.9 L430.4 444.0 L431.6 440.7 L432.7 444.6 L433.9 444.4 L435.1 440.6 L436.3 438.5 L437.5 445.1 L438.7 430.0 L439.8 441.4 L441.0 436.2 L442.2 429.1 L443.4 432.7 L444.6 451.7 L445.8 443.8 L446.9 441.5 L448.1 439.8 L449.3 442.9 L450.5 445.3 L451.7 445.4 L452.8 438.7 L454.0 439.4 L455.2 437.1 L456.4 440.2 L457.6 438.4 L458.8 437.2 L459.9 449.2 L461.1 449.5 L462.3 439.4 L463.5 444.5 L464.7 440.0 L465.9 438.7 L467.0 445.4 L468.2 444.7 L469.4 445.9 L470.6 447.6 L471.8 454.4 L473.0 440.7 L474.1 447.6 L475.3 446.6 L476.5 439.3 L477.7 444.6 L478.9 442.0 L480.0 434.8 L481.2 445.2 L482.4 448.8 L483.6 446.0 L484.8 445.6 L486.0 444.2 L487.1 436.8 L488.3 443.2 L489.5 439.2 L490.7 442.1 L491.9 449.2 L493.1 446.1 L494.2 443.8 L495.4 437.8 L496.6 441.5 L497.8 441.0 L499.0 440.6 L500.2 456.4 L501.3 427.0 L502.5 438.4 L503.7 444.9 L504.9 449.1 L506.1 445.4 L507.2 451.2 L508.4 441.8 L509.6 449.8 L510.8 447.0 L512.0 446.5 L513.2 444.0 L514.3 446.4 L515.5 441.3 L516.7 455.4 L517.9 439.8 L519.1 441.9 L520.3 451.9 L521.4 452.6 L522.6 442.0 L523.8 448.0 L525.0 446.2 L526.2 449.5 L527.4 445.8 L528.5 445.6 L529.7 452.0 L530.9 451.3 L532.1 448.9 L533.3 447.4 L534.4 457.5 L535.6 453.4 L536.8 446.1 L538.0 454.3 L539.2 448.7 L540.4 459.7 L541.5 450.0 L542.7 453.5 L543.9 456.2 L545.1 447.3 L546.3 459.6 L547.5 453.6 L548.6 459.4 L549.8 454.8 L551.0 468.1 L552.2 451.9 L553.4 447.9 L554.6 458.0 L555.7 451.9 L556.9 463.0 L558.1 458.5 L559.3 456.1 L560.5 447.7 L561.6 459.4 L562.8 462.3 L564.0 456.9 L565.2 454.9 L566.4 459.5 L567.6 456.9 L568.7 449.6 L569.9 463.7 L571.1 453.0 L572.3 465.8 L573.5 458.7 L574.7 456.2 L575.8 457.8 L577.0 454.4 L578.2 449.3 L579.4 451.4 L580.6 457.8 L581.8 460.5 L582.9 454.9 L584.1 456.3 L585.3 464.2 L586.5 453.7 L587.7 454.7 L588.8 462.7 L590.0 466.2 L591.2 470.1 L592.4 459.2 L593.6 464.9 L594.8 459.9 L595.9 465.5 L597.1 457.2 L598.3 473.1 L599.5 464.4 L600.7 468.8 L601.9 454.6 L603.0 471.3 L604.2 469.5 L605.4 461.2 L606.6 462.2 L607.8 464.2 L609.0 464.4 L610.1 470.0 L611.3 465.8 L612.5 467.2"/>
<path stroke="#C81C1C" d="M316.9 355.1 L318.0 352.8 L319.2 358.6 L320.4 358.1 L321.6 356.6 L322.8 364.7 L323.9 356.4 L325.1 352.5 L326.3 361.4 L327.5 352.9 L328.7 356.8 L329.9 360.1 L331.0 355.2 L332.2 349.2 L333.4 358.2 L334.6 356.4 L335.8 347.7 L337.0 366.6 L338.1 361.0 L339.3 368.6 L340.5 361.5 L341.7 367.3 L342.9 357.8 L344.0 357.4 L345.2 363.9 L346.4 355.2 L347.6 354.4 L348.8 362.5 L350.0 359.3 L351.1 360.9 L352.3 356.3 L353.5 351.2 L354.7 365.7 L355.9 348.1 L357.1 357.8 L358.2 355.7 L359.4 350.2 L360.6 363.0 L361.8 362.4 L363.0 367.0 L364.2 358.6 L365.3 365.1 L366.5 351.6 L367.7 356.7 L368.9 357.5 L370.1 353.4 L371.2 346.1 L372.4 358.3 L373.6 342.7 L374.8 352.6 L376.0 363.6 L377.2 372.9 L378.3 356.3 L379.5 342.0 L380.7 349.6 L381.9 352.2 L383.1 346.9 L384.3 349.5 L385.4 358.2 L386.6 357.3 L387.8 355.7 L389.0 351.7 L390.2 363.9 L391.4 360.1 L392.5 354.3 L393.7 356.1 L394.9 350.0 L396.1 357.1 L397.3 363.5 L398.4 356.3 L399.6 360.2 L400.8 357.3 L402.0 361.1 L403.2 352.1 L404.4 357.5 L405.5 366.6 L406.7 358.3 L407.9 354.2 L409.1 360.7 L410.3 345.8 L411.5 355.2 L412.6 355.3 L413.8 360.3 L415.0 359.4 L416.2 352.7 L417.4 356.7 L418.6 353.7 L419.7 363.1 L420.9 358.3 L422.1 355.0 L423.3 347.8 L424.5 360.5 L425.6 363.0 L426.8 347.6 L428.0 357.0 L429.2 350.9 L430.4 355.9 L431.6 364.1 L432.7 354.2 L433.9 345.3 L435.1 350.8 L436.3 359.3 L437.5 358.3 L438.7 352.2 L439.8 348.8 L441.0 364.0 L442.2 363.9 L443.4 351.1 L444.6 363.7 L445.8 364.3 L446.9 353.9 L448.1 356.6 L449.3 361.9 L450.5 355.7 L451.7 361.6 L452.8 361.5 L454.0 362.3 L455.2 362.7 L456.4 364.9 L457.6 354.5 L458.8 361.6 L459.9 361.5 L461.1 355.7 L462.3 355.9 L463.5 351.3 L464.7 357.8 L465.9 358.9 L467.0 362.5 L468.2 360.9 L469.4 360.2 L470.6 355.8 L471.8 351.6 L473.0 356.6 L474.1 366.2 L475.3 366.4 L476.5 359.7 L477.7 365.9 L478.9 354.7 L480.0 357.8 L481.2 356.2 L482.4 358.7 L483.6 360.9 L484.8 355.9 L486.0 357.6 L487.1 363.0 L488.3 370.9 L489.5 355.8 L490.7 364.9 L491.9 366.3 L493.1 369.1 L494.2 358.2 L495.4 362.5 L496.6 360.4 L497.8 362.9 L499.0 364.5 L500.2 371.5 L501.3 365.4 L502.5 366.9 L503.7 362.2 L504.9 363.4 L506.1 357.4 L507.2 369.7 L508.4 374.5 L509.6 375.1 L510.8 378.7 L512.0 364.2 L513.2 367.7 L514.3 364.6 L515.5 378.7 L516.7 374.9 L517.9 374.5 L519.1 378.1 L520.3 375.2 L521.4 389.4 L522.6 377.7 L523.8 373.2 L525.0 383.6 L526.2 382.8 L527.4 378.5 L528.5 379.2 L529.7 377.1 L530.9 383.2 L532.1 384.3 L533.3 391.0 L534.4 394.0 L535.6 398.3 L536.8 402.4 L538.0 399.7 L539.2 394.8 L540.4 388.2 L541.5 393.5 L542.7 396.7 L543.9 404.8 L545.1 403.5 L546.3 395.9 L547.5 410.5 L548.6 412.7 L549.8 407.4 L551.0 417.1 L552.2 412.1 L553.4 412.8 L554.6 406.3 L555.7 404.8 L556.9 413.5 L558.1 406.4 L559.3 401.6 L560.5 407.6 L561.6 414.7 L562.8 418.4 L564.0 411.1 L565.2 418.7 L566.4 408.1 L567.6 425.4 L568.7 417.6 L569.9 425.0 L571.1 412.9 L572.3 413.2 L573.5 417.8 L574.7 425.9 L575.8 429.6 L577.0 426.9 L578.2 429.3 L579.4 428.1 L580.6 434.2 L581.8 433.4 L582.9 439.2 L584.1 438.7 L585.3 430.5 L586.5 429.2 L587.7 432.4 L588.8 425.1 L590.0 436.9 L591.2 441.2 L592.4 447.5 L593.6 442.8 L594.8 440.2 L595.9 436.6 L597.1 442.6 L598.3 440.2 L599.5 437.5 L600.7 451.3 L601.9 451.3 L603.0 456.0 L604.2 453.2 L605.4 457.9 L606.6 451.8 L607.8 450.1 L609.0 454.4 L610.1 458.5 L611.3 452.4 L612.5 457.5"/>
<path stroke="#1A0CF0" d="M316.9 337.7 L318.0 339.4 L319.2 343.9 L320.4 342.3 L321.6 346.1 L322.8 341.2 L323.9 336.3 L325.1 340.0 L326.3 340.2 L327.5 346.1 L328.7 340.5 L329.9 339.5 L331.0 344.0 L332.2 336.6 L333.4 338.7 L334.6 337.0 L335.8 341.9 L337.0 338.3 L338.1 336.5 L339.3 344.6 L340.5 341.7 L341.7 348.9 L342.9 345.5 L344.0 342.7 L345.2 338.5 L346.4 336.9 L347.6 338.2 L348.8 339.9 L350.0 346.5 L351.1 340.8 L352.3 341.7 L353.5 338.7 L354.7 336.0 L355.9 336.6 L357.1 340.8 L358.2 341.7 L359.4 339.0 L360.6 339.4 L361.8 345.0 L363.0 343.8 L364.2 340.8 L365.3 332.6 L366.5 338.9 L367.7 338.1 L368.9 341.1 L370.1 348.4 L371.2 338.9 L372.4 337.1 L373.6 335.8 L374.8 332.2 L376.0 342.5 L377.2 340.0 L378.3 339.2 L379.5 338.7 L380.7 338.7 L381.9 336.2 L383.1 342.9 L384.3 342.6 L385.4 336.9 L386.6 342.8 L387.8 343.7 L389.0 342.8 L390.2 339.9 L391.4 339.3 L392.5 336.7 L393.7 342.4 L394.9 342.2 L396.1 344.1 L397.3 339.9 L398.4 338.3 L399.6 341.2 L400.8 343.9 L402.0 335.2 L403.2 340.8 L404.4 339.6 L405.5 339.8 L406.7 338.3 L407.9 338.2 L409.1 338.9 L410.3 337.0 L411.5 334.5 L412.6 337.9 L413.8 339.9 L415.0 340.6 L416.2 341.3 L417.4 341.5 L418.6 337.9 L419.7 340.2 L420.9 341.2 L422.1 345.0 L423.3 338.3 L424.5 335.7 L425.6 337.1 L426.8 335.8 L428.0 337.9 L429.2 340.7 L430.4 339.9 L431.6 333.2 L432.7 336.4 L433.9 343.6 L435.1 333.2 L436.3 343.1 L437.5 334.8 L438.7 337.9 L439.8 341.5 L441.0 342.5 L442.2 340.7 L443.4 348.5 L444.6 349.8 L445.8 340.0 L446.9 339.8 L448.1 340.2 L449.3 338.4 L450.5 337.7 L451.7 338.9 L452.8 334.5 L454.0 341.8 L455.2 333.3 L456.4 334.9 L457.6 329.7 L458.8 340.0 L459.9 335.2 L461.1 338.0 L462.3 332.9 L463.5 333.1 L464.7 342.5 L465.9 343.8 L467.0 337.7 L468.2 337.0 L469.4 334.5 L470.6 332.4 L471.8 337.0 L473.0 334.9 L474.1 332.7 L475.3 337.7 L476.5 336.7 L477.7 339.0 L478.9 338.9 L480.0 325.0 L481.2 326.2 L482.4 332.6 L483.6 331.4 L484.8 328.2 L486.0 324.7 L487.1 331.3 L488.3 343.4 L489.5 331.9 L490.7 339.4 L491.9 339.0 L493.1 328.8 L494.2 332.5 L495.4 334.9 L496.6 328.2 L497.8 330.7 L499.0 333.8 L500.2 331.6 L501.3 330.6 L502.5 328.7 L503.7 332.8 L504.9 326.6 L506.1 324.3 L507.2 327.6 L508.4 321.8 L509.6 326.7 L510.8 329.2 L512.0 329.2 L513.2 324.0 L514.3 321.9 L515.5 318.1 L516.7 320.2 L517.9 325.6 L519.1 323.5 L520.3 322.4 L521.4 324.0 L522.6 326.1 L523.8 326.9 L525.0 324.1 L526.2 328.4 L527.4 321.4 L528.5 328.1 L529.7 320.2 L530.9 328.5 L532.1 324.8 L533.3 323.0 L534.4 321.6 L535.6 323.1 L536.8 327.5 L538.0 328.1 L539.2 327.2 L540.4 319.2 L541.5 320.4 L542.7 324.6 L543.9 325.8 L545.1 328.2 L546.3 330.2 L547.5 319.5 L548.6 326.1 L549.8 322.9 L551.0 312.3 L552.2 316.7 L553.4 314.3 L554.6 317.2 L555.7 319.4 L556.9 320.0 L558.1 322.6 L559.3 321.9 L560.5 320.9 L561.6 323.8 L562.8 318.3 L564.0 323.3 L565.2 327.5 L566.4 320.3 L567.6 321.1 L568.7 317.4 L569.9 317.0 L571.1 310.2 L572.3 312.8 L573.5 321.2 L574.7 319.3 L575.8 313.3 L577.0 318.1 L578.2 314.3 L579.4 316.4 L580.6 320.0 L581.8 318.0 L582.9 317.6 L584.1 315.4 L585.3 313.3 L586.5 306.6 L587.7 310.1 L588.8 316.9 L590.0 318.1 L591.2 314.7 L592.4 311.3 L593.6 310.2 L594.8 311.1 L595.9 316.5 L597.1 315.1 L598.3 326.1 L599.5 313.8 L600.7 311.9 L601.9 313.4 L603.0 315.4 L604.2 309.2 L605.4 312.7 L606.6 311.4 L607.8 310.8 L609.0 311.4 L610.1 303.2 L611.3 307.3 L612.5 307.8"/>
<path stroke="#8C1414" d="M316.9 243.0 L318.0 244.8 L319.2 242.7 L320.4 250.1 L321.6 247.4 L322.8 242.7 L323.9 244.3 L325.1 248.0 L326.3 244.9 L327.5 248.2 L328.7 248.3 L329.9 243.7 L331.0 249.3 L332.2 242.3 L333.4 246.4 L334.6 256.6 L335.8 250.3 L337.0 249.9 L338.1 240.9 L339.3 246.6 L340.5 246.8 L341.7 254.0 L342.9 250.9 L344.0 248.5 L345.2 242.3 L346.4 249.3 L347.6 253.7 L348.8 238.3 L350.0 244.0 L351.1 248.1 L352.3 241.1 L353.5 254.2 L354.7 250.9 L355.9 251.4 L357.1 234.7 L358.2 247.6 L359.4 247.9 L360.6 246.0 L361.8 239.8 L363.0 252.3 L364.2 252.0 L365.3 255.7 L366.5 248.3 L367.7 247.4 L368.9 248.3 L370.1 250.2 L371.2 251.8 L372.4 253.4 L373.6 248.3 L374.8 247.4 L376.0 251.6 L377.2 256.0 L378.3 255.2 L379.5 248.2 L380.7 249.7 L381.9 245.8 L383.1 252.2 L384.3 247.6 L385.4 250.7 L386.6 244.3 L387.8 248.7 L389.0 245.0 L390.2 244.1 L391.4 246.3 L392.5 243.2 L393.7 235.6 L394.9 251.2 L396.1 250.9 L397.3 252.9 L398.4 249.1 L399.6 249.6 L400.8 243.6 L402.0 247.6 L403.2 258.4 L404.4 248.0 L405.5 258.9 L406.7 248.2 L407.9 247.0 L409.1 248.3 L410.3 253.6 L411.5 253.0 L412.6 256.1 L413.8 253.8 L415.0 254.1 L416.2 253.1 L417.4 246.4 L418.6 250.8 L419.7 246.8 L420.9 247.5 L422.1 247.8 L423.3 254.4 L424.5 251.3 L425.6 249.4 L426.8 249.3 L428.0 252.3 L429.2 250.8 L430.4 246.2 L431.6 259.7 L432.7 251.1 L433.9 251.0 L435.1 251.8 L436.3 249.4 L437.5 247.4 L438.7 255.4 L439.8 256.3 L441.0 253.2 L442.2 256.1 L443.4 252.8 L444.6 250.7 L445.8 249.7 L446.9 255.4 L448.1 248.5 L449.3 255.3 L450.5 247.6 L451.7 254.1 L452.8 246.1 L454.0 249.9 L455.2 255.4 L456.4 253.5 L457.6 248.6 L458.8 249.8 L459.9 254.8 L461.1 256.4 L462.3 251.9 L463.5 251.9 L464.7 250.6 L465.9 256.4 L467.0 258.6 L468.2 249.8 L469.4 246.1 L470.6 254.9 L471.8 257.4 L473.0 259.2 L474.1 252.1 L475.3 248.9 L476.5 260.5 L477.7 256.1 L478.9 258.4 L480.0 262.3 L481.2 257.3 L482.4 259.2 L483.6 257.1 L484.8 257.5 L486.0 251.2 L487.1 259.9 L488.3 253.8 L489.5 257.4 L490.7 257.9 L491.9 257.3 L493.1 251.4 L494.2 260.8 L495.4 254.3 L496.6 256.1 L497.8 261.9 L499.0 257.4 L500.2 256.4 L501.3 263.7 L502.5 262.2 L503.7 255.8 L504.9 257.8 L506.1 266.8 L507.2 258.0 L508.4 257.2 L509.6 253.7 L510.8 264.9 L512.0 261.7 L513.2 264.4 L514.3 260.4 L515.5 261.0 L516.7 262.1 L517.9 262.5 L519.1 264.8 L520.3 261.7 L521.4 261.0 L522.6 264.9 L523.8 262.8 L525.0 265.2 L526.2 270.6 L527.4 268.6 L528.5 264.9 L529.7 263.7 L530.9 263.8 L532.1 268.9 L533.3 264.5 L534.4 270.4 L535.6 272.0 L536.8 266.5 L538.0 264.1 L539.2 265.3 L540.4 262.4 L541.5 262.4 L542.7 269.7 L543.9 273.2 L545.1 275.2 L546.3 275.6 L547.5 273.1 L548.6 266.7 L549.8 276.9 L551.0 272.0 L552.2 276.4 L553.4 275.8 L554.6 271.0 L555.7 271.9 L556.9 279.5 L558.1 272.7 L559.3 271.5 L560.5 275.0 L561.6 276.2 L562.8 281.4 L564.0 275.8 L565.2 278.6 L566.4 273.1 L567.6 273.4 L568.7 274.1 L569.9 284.8 L571.1 277.9 L572.3 279.0 L573.5 279.0 L574.7 277.4 L575.8 280.7 L577.0 283.0 L578.2 287.5 L579.4 281.8 L580.6 285.2 L581.8 273.7 L582.9 285.3 L584.1 286.7 L585.3 286.2 L586.5 283.9 L587.7 285.6 L588.8 278.4 L590.0 279.9 L591.2 288.3 L592.4 294.6 L593.6 286.6 L594.8 286.4 L595.9 289.6 L597.1 295.0 L598.3 281.1 L599.5 279.4 L600.7 283.9 L601.9 285.9 L603.0 290.8 L604.2 285.0 L605.4 287.0 L606.6 288.1 L607.8 286.3 L609.0 287.8 L610.1 290.0 L611.3 293.9 L612.5 290.8"/>
<path stroke="#A41C1C" d="M422.9 47.2 L424.3 56.0 L425.5 51.9 L426.8 45.8 L428.0 39.6 L429.0 49.9 L430.2 60.1 L431.5 34.1 L432.7 36.2 L433.9 34.5 L434.9 37.6 L436.2 38.6 L437.4 41.7 L438.6 35.5 L439.8 48.8 L440.9 46.8 L442.1 47.8 L443.3 40.7 L444.5 45.8 L445.8 41.7 L446.8 42.7 L448.0 43.7 L449.2 47.8 L450.5 37.6 L451.7 40.7 L452.7 43.7 L453.9 38.6 L455.2 33.5 L456.4 35.5 L457.6 40.7 L458.6 47.8 L459.9 32.5 L461.1 23.9 L462.3 28.4 L463.5 24.7 L464.6 28.0 L465.8 23.9 L467.0 28.8 L468.2 29.4 L469.5 34.5 L470.5 31.5 L471.7 30.4 L472.9 26.8 L474.2 30.4 L475.4 30.8 L476.4 30.0 L477.6 30.8 L478.9 43.7 L480.1 53.9 L481.3 52.9 L482.3 53.3 L483.6 57.0 L484.8 62.1 L486.0 65.2 L487.3 67.2 L488.3 71.3 L489.5 68.2 L490.7 70.3 L492.0 75.8 L493.2 75.0 L494.2 64.2 L495.4 67.2 L496.7 70.3 L497.9 65.2 L499.1 63.5 L500.1 64.8 L501.4 64.2 L502.6 69.3 L503.8 66.2 L505.0 65.2 L506.1 61.1 L507.3 58.6 L508.5 62.1 L509.7 63.5 L511.0 61.1 L512.0 60.1 L513.2 59.0 L514.4 65.2 L515.7 62.7 L516.9 72.3 L517.9 75.0"/>
</g>
<text x="636.5" y="243.3" text-anchor="middle" fill="#66F0CC">12</text>
<text x="622.0" y="251.1" text-anchor="middle" fill="#66F5F0">11</text>
<text x="622.0" y="282.0" text-anchor="middle" fill="#140CE8">5</text>
<text x="622.0" y="297.7" text-anchor="middle" fill="#8C1414">27</text>
<text x="636.9" y="298.3" text-anchor="middle" fill="#66EEFF">10</text>
<text x="622.0" y="312.3" text-anchor="middle" fill="#1A0CF0">3</text>
<text x="636.0" y="310.0" text-anchor="middle" fill="#3C80F5">7</text>
<text x="622.0" y="328.0" text-anchor="middle" fill="#1A0CF0">2</text>
<text x="636.0" y="329.3" text-anchor="middle" fill="#48A0FF">8</text>
<text x="622.0" y="349.3" text-anchor="middle" fill="#55CCFF">9</text>
<text x="622.0" y="369.6" text-anchor="middle" fill="#FF4010">22</text>
<text x="622.0" y="381.7" text-anchor="middle" fill="#F0E033">18</text>
<text x="622.0" y="402.0" text-anchor="middle" fill="#F0B028">19</text>
<text x="622.0" y="413.5" text-anchor="middle" fill="#2C50FF">6</text>
<text x="622.0" y="431.0" text-anchor="middle" fill="#0C0CF0">4</text>
<text x="622.0" y="442.3" text-anchor="middle" fill="#C4F82C">16</text>
<text x="636.3" y="441.0" text-anchor="middle" fill="#FF200C">23</text>
<text x="636.3" y="455.3" text-anchor="middle" fill="#70F833">15</text>
<text x="649.8" y="453.3" text-anchor="middle" fill="#FF7018">21</text>
<text x="622.0" y="460.7" text-anchor="middle" fill="#55F099">13</text>
<text x="664.4" y="459.6" text-anchor="middle" fill="#FF1C18">25</text>
<text x="650.0" y="466.0" text-anchor="middle" fill="#E8F033">17</text>
<text x="636.4" y="474.9" text-anchor="middle" fill="#C81C1C">26</text>
<text x="664.4" y="475.5" text-anchor="middle" fill="#F09028">20</text>
<text x="622.0" y="478.7" text-anchor="middle" fill="#FF1808">24</text>
<text x="622.0" y="487.7" text-anchor="middle" fill="#0E0EAC">1</text>
<text x="622.0" y="505.5" text-anchor="middle" fill="#3CF858">14</text>
<text x="532.0" y="80.3" text-anchor="middle" fill="#A41C1C">28</text>
<rect x="69.6" y="97.8" width="233.4" height="517.0" fill="#fff" stroke="#111" stroke-width="1.4"/>
<line x1="82" y1="115.7" x2="110.5" y2="115.7" stroke="#0E0EAC" stroke-width="1.9"/>
<text x="123.6" y="120.9" textLength="88.6" lengthAdjust="spacing" fill="#000">CanESM5 (1)</text>
<line x1="82" y1="133.5" x2="110.5" y2="133.5" stroke="#1A0CF0" stroke-width="1.9"/>
<text x="123.6" y="138.8" textLength="111.6" lengthAdjust="spacing" fill="#000">MIROC-ES2L (2)</text>
<line x1="82" y1="151.4" x2="110.5" y2="151.4" stroke="#1A0CF0" stroke-width="1.9"/>
<text x="123.6" y="156.6" textLength="102.7" lengthAdjust="spacing" fill="#000">FGOALS-g3 (3)</text>
<line x1="82" y1="169.2" x2="110.5" y2="169.2" stroke="#0C0CF0" stroke-width="1.9"/>
<text x="123.6" y="174.4" textLength="100.5" lengthAdjust="spacing" fill="#000">KIOST-ESM (4)</text>
<line x1="82" y1="187.0" x2="110.5" y2="187.0" stroke="#140CE8" stroke-width="1.9"/>
<text x="123.6" y="192.3" textLength="110.8" lengthAdjust="spacing" fill="#000">NorESM2-LM (5)</text>
<line x1="82" y1="204.9" x2="110.5" y2="204.9" stroke="#2C50FF" stroke-width="1.9"/>
<text x="123.6" y="210.1" textLength="129.1" lengthAdjust="spacing" fill="#000">MPI-ESM1-2-LR (6)</text>
<line x1="82" y1="222.7" x2="110.5" y2="222.7" stroke="#3C80F5" stroke-width="1.9"/>
<text x="123.6" y="227.9" textLength="72.8" lengthAdjust="spacing" fill="#000">NESM3 (7)</text>
<line x1="82" y1="240.6" x2="110.5" y2="240.6" stroke="#48A0FF" stroke-width="1.9"/>
<text x="123.6" y="245.8" textLength="98.6" lengthAdjust="spacing" fill="#000">INM-CM4-8 (8)</text>
<line x1="82" y1="258.4" x2="110.5" y2="258.4" stroke="#55CCFF" stroke-width="1.9"/>
<text x="123.6" y="263.6" textLength="98.6" lengthAdjust="spacing" fill="#000">INM-CM5-0 (9)</text>
<line x1="82" y1="276.2" x2="110.5" y2="276.2" stroke="#66EEFF" stroke-width="1.9"/>
<text x="123.6" y="281.4" textLength="87.5" lengthAdjust="spacing" fill="#000">MIROC6 (10)</text>
<line x1="82" y1="294.1" x2="110.5" y2="294.1" stroke="#66F5F0" stroke-width="1.9"/>
<text x="123.6" y="299.3" textLength="124.1" lengthAdjust="spacing" fill="#000">CNRM-CM6-1 (11)</text>
<line x1="82" y1="311.9" x2="110.5" y2="311.9" stroke="#66F0CC" stroke-width="1.9"/>
<text x="123.6" y="317.1" textLength="132.4" lengthAdjust="spacing" fill="#000">CNRM-ESM2-1 (12)</text>
<line x1="82" y1="329.7" x2="110.5" y2="329.7" stroke="#55F099" stroke-width="1.9"/>
<text x="123.6" y="335.0" textLength="126.9" lengthAdjust="spacing" fill="#000">ACCESS-CM2 (13)</text>
<line x1="82" y1="347.6" x2="110.5" y2="347.6" stroke="#3CF858" stroke-width="1.9"/>
<text x="123.6" y="352.8" textLength="148.2" lengthAdjust="spacing" fill="#000">ACCESS-ESM1-5 (14)</text>
<line x1="82" y1="365.4" x2="110.5" y2="365.4" stroke="#70F833" stroke-width="1.9"/>
<text x="123.6" y="370.6" textLength="164.9" lengthAdjust="spacing" fill="#000">HadGEM3-GC31-LL (15)</text>
<line x1="82" y1="383.3" x2="110.5" y2="383.3" stroke="#C4F82C" stroke-width="1.9"/>
<text x="123.6" y="388.5" textLength="113.5" lengthAdjust="spacing" fill="#000">KACE-1-0-G (16)</text>
<line x1="82" y1="401.1" x2="110.5" y2="401.1" stroke="#E8F033" stroke-width="1.9"/>
<text x="123.6" y="406.3" textLength="125.5" lengthAdjust="spacing" fill="#000">UKESM1-0-LL (17)</text>
<line x1="82" y1="418.9" x2="110.5" y2="418.9" stroke="#F0E033" stroke-width="1.9"/>
<text x="123.6" y="424.1" textLength="114.9" lengthAdjust="spacing" fill="#000">MRI-ESM2-0 (18)</text>
<line x1="82" y1="436.8" x2="110.5" y2="436.8" stroke="#F0B028" stroke-width="1.9"/>
<text x="123.6" y="442.0" textLength="135.7" lengthAdjust="spacing" fill="#000">BCC-CSM2-MR (19)</text>
<line x1="82" y1="454.6" x2="110.5" y2="454.6" stroke="#F09028" stroke-width="1.9"/>
<text x="123.6" y="459.8" textLength="104.1" lengthAdjust="spacing" fill="#000">GFDL-CM4 (20)</text>
<line x1="82" y1="472.4" x2="110.5" y2="472.4" stroke="#FF7018" stroke-width="1.9"/>
<text x="123.6" y="477.7" textLength="112.4" lengthAdjust="spacing" fill="#000">GFDL-ESM4 (21)</text>
<line x1="82" y1="490.3" x2="110.5" y2="490.3" stroke="#FF4010" stroke-width="1.9"/>
<text x="123.6" y="495.5" textLength="122.7" lengthAdjust="spacing" fill="#000">NorESM2-MM (22)</text>
<line x1="82" y1="508.1" x2="110.5" y2="508.1" stroke="#FF200C" stroke-width="1.9"/>
<text x="123.6" y="513.3" textLength="140.2" lengthAdjust="spacing" fill="#000">MPI-ESM1-2-HR (23)</text>
<line x1="82" y1="526.0" x2="110.5" y2="526.0" stroke="#FF1808" stroke-width="1.9"/>
<text x="123.6" y="531.2" textLength="99.1" lengthAdjust="spacing" fill="#000">EC-Earth3 (24)</text>
<line x1="82" y1="543.8" x2="110.5" y2="543.8" stroke="#FF1C18" stroke-width="1.9"/>
<text x="123.6" y="549.0" textLength="129.1" lengthAdjust="spacing" fill="#000">EC-Earth3-Veg (25)</text>
<line x1="82" y1="561.6" x2="110.5" y2="561.6" stroke="#C81C1C" stroke-width="1.9"/>
<text x="123.6" y="566.8" textLength="172.6" lengthAdjust="spacing" fill="#000">HadGEM3-GC31-MM (26)</text>
<line x1="82" y1="579.5" x2="110.5" y2="579.5" stroke="#8C1414" stroke-width="1.9"/>
<text x="123.6" y="584.7" textLength="150.4" lengthAdjust="spacing" fill="#000">CNRM-CM6-1-HR (27)</text>
<line x1="82" y1="597.3" x2="110.5" y2="597.3" stroke="#A41C1C" stroke-width="1.9"/>
<text x="123.6" y="602.5" textLength="68.6" lengthAdjust="spacing" fill="#000">ERA5 (28)</text>
<rect x="69.6" y="2.6" width="612.6" height="612.3" fill="none" stroke="#111" stroke-width="1.4"/>
<text x="316.9" y="647.4" text-anchor="middle" fill="#000">1850</text>
<text x="376.0" y="647.4" text-anchor="middle" fill="#000">1900</text>
<text x="435.1" y="647.4" text-anchor="middle" fill="#000">1950</text>
<text x="494.2" y="647.4" text-anchor="middle" fill="#000">2000</text>
<text x="553.4" y="647.4" text-anchor="middle" fill="#000">2050</text>
<text x="612.5" y="647.4" text-anchor="middle" fill="#000">2100</text>
<text transform="translate(47.9 24.8) rotate(-90)" text-anchor="middle" fill="#000">65</text>
<text transform="translate(47.9 166.7) rotate(-90)" text-anchor="middle" fill="#000">60</text>
<text transform="translate(47.9 308.6) rotate(-90)" text-anchor="middle" fill="#000">55</text>
<text transform="translate(47.9 450.5) rotate(-90)" text-anchor="middle" fill="#000">50</text>
<text transform="translate(47.9 592.4) rotate(-90)" text-anchor="middle" fill="#000">45</text>
<text x="375.8" y="683" text-anchor="middle" fill="#000">Year</text>
<text transform="translate(12.2 308.2) rotate(-90)" text-anchor="middle" fill="#000">Relative humidity [%]</text>
</svg></body></html>
